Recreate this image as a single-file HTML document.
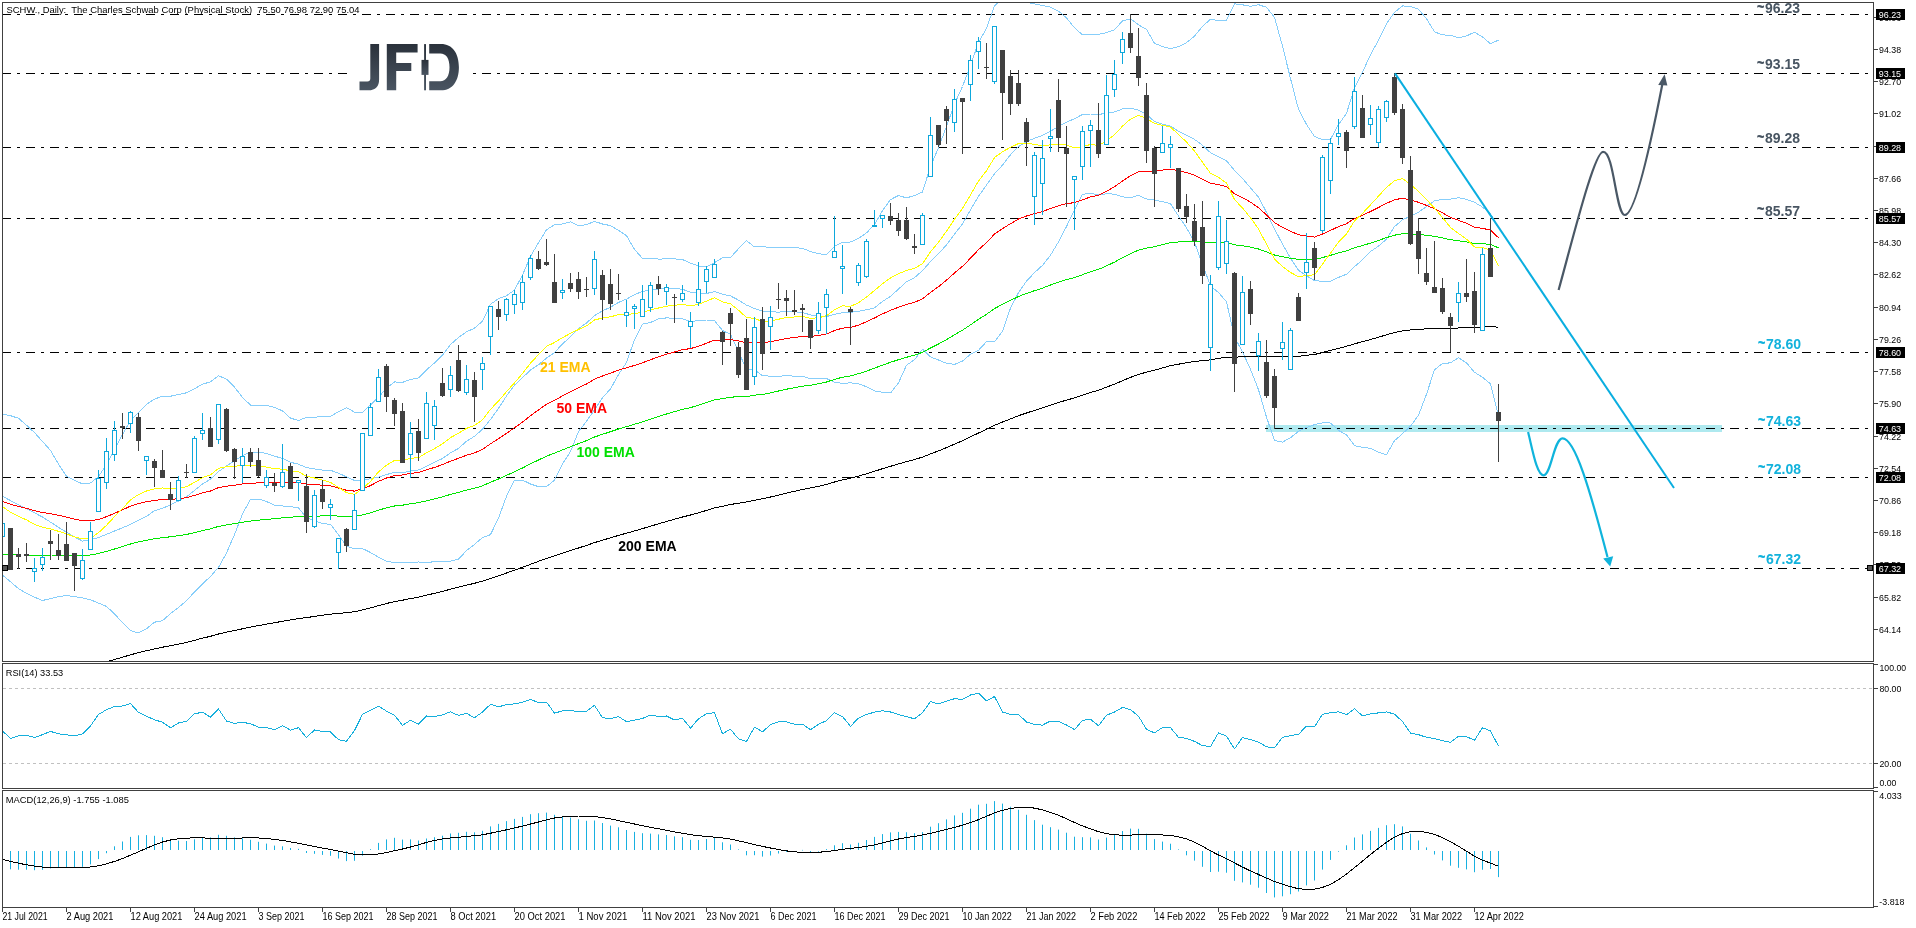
<!DOCTYPE html>
<html><head><meta charset="utf-8"><title>SCHW Daily</title>
<style>html,body{margin:0;padding:0;background:#fff;width:1916px;height:928px;overflow:hidden}
text{font-family:"Liberation Sans",sans-serif}</style></head>
<body>
<svg width="1916" height="928" viewBox="0 0 1916 928" style="display:block;will-change:transform">
<rect width="1916" height="928" fill="#fff"/>
<defs><clipPath id="cm"><rect x="3" y="3" width="1870" height="658"/></clipPath><clipPath id="cr"><rect x="3" y="664" width="1870" height="124"/></clipPath><clipPath id="cd"><rect x="3" y="791" width="1870" height="116"/></clipPath><linearGradient id="jfd" x1="0" y1="0" x2="0" y2="1"><stop offset="0" stop-color="#2a313b"/><stop offset="1" stop-color="#4a5562"/></linearGradient></defs>
<g clip-path="url(#cm)">
<rect x="1266" y="425" width="456" height="7" fill="#aee9ef"/>
<line x1="2" y1="14.5" x2="1873" y2="14.5" stroke="#000" stroke-width="1" stroke-dasharray="9 6 3 6"/>
<line x1="2" y1="73.5" x2="1873" y2="73.5" stroke="#000" stroke-width="1" stroke-dasharray="9 6 3 6"/>
<line x1="2" y1="147.5" x2="1873" y2="147.5" stroke="#000" stroke-width="1" stroke-dasharray="9 6 3 6"/>
<line x1="2" y1="218.5" x2="1873" y2="218.5" stroke="#000" stroke-width="1" stroke-dasharray="9 6 3 6"/>
<line x1="2" y1="352.5" x2="1873" y2="352.5" stroke="#000" stroke-width="1" stroke-dasharray="9 6 3 6"/>
<line x1="2" y1="428.5" x2="1873" y2="428.5" stroke="#000" stroke-width="1" stroke-dasharray="9 6 3 6"/>
<line x1="2" y1="477.5" x2="1873" y2="477.5" stroke="#000" stroke-width="1" stroke-dasharray="9 6 3 6"/>
<line x1="2" y1="568.5" x2="1873" y2="568.5" stroke="#000" stroke-width="1" stroke-dasharray="9 6 3 6"/>
<polyline points="2.5,414.0 10.5,415.7 18.5,418.3 26.5,425.2 34.5,432.6 42.5,441.5 50.5,450.4 58.5,464.1 66.5,476.3 74.5,480.3 82.5,483.9 90.5,483.0 98.5,476.6 106.5,464.6 114.5,449.5 122.5,434.4 130.5,420.4 138.5,412.4 146.5,404.4 154.5,399.1 162.5,396.1 170.5,396.2 178.5,394.6 186.5,392.8 194.5,388.8 202.5,384.1 210.5,381.9 218.5,375.8 226.5,379.1 234.5,387.1 242.5,397.4 250.5,405.1 258.5,405.2 266.5,405.3 274.5,407.3 282.5,410.9 290.5,418.1 298.5,420.5 306.5,417.3 314.5,417.2 322.5,416.6 330.5,416.3 338.5,411.6 346.5,407.6 354.5,412.1 362.5,412.6 370.5,404.8 378.5,397.4 386.5,388.0 394.5,381.9 402.5,382.4 410.5,379.4 418.5,378.0 426.5,369.9 434.5,362.9 442.5,355.2 450.5,344.5 458.5,337.5 466.5,331.8 474.5,328.2 482.5,321.1 490.5,304.3 498.5,298.6 506.5,295.7 514.5,290.0 522.5,275.0 530.5,256.3 538.5,242.8 546.5,229.8 554.5,224.8 562.5,224.0 570.5,221.9 578.5,225.6 586.5,224.7 594.5,221.4 602.5,224.0 610.5,225.6 618.5,230.3 626.5,235.7 634.5,249.4 642.5,258.5 650.5,258.1 658.5,259.1 666.5,258.9 674.5,258.9 682.5,259.6 690.5,263.1 698.5,266.0 706.5,267.0 714.5,262.6 722.5,257.9 730.5,257.5 738.5,248.7 746.5,240.7 754.5,247.0 762.5,246.7 770.5,247.4 778.5,248.0 786.5,247.2 794.5,247.6 802.5,248.4 810.5,251.5 818.5,253.7 826.5,254.6 834.5,246.2 842.5,242.3 850.5,242.0 858.5,238.4 866.5,232.9 874.5,224.6 882.5,210.7 890.5,199.6 898.5,195.5 906.5,197.9 914.5,195.5 922.5,192.1 930.5,166.3 938.5,147.7 946.5,126.4 954.5,104.0 962.5,86.5 970.5,65.5 978.5,42.4 986.5,28.3 994.5,5.8 1002.5,-0.8 1010.5,1.4 1018.5,0.7 1026.5,2.3 1034.5,3.9 1042.5,5.4 1050.5,7.1 1058.5,11.1 1066.5,18.0 1074.5,27.8 1082.5,34.8 1090.5,34.7 1098.5,34.3 1106.5,32.7 1114.5,29.8 1122.5,20.8 1130.5,18.8 1138.5,24.8 1146.5,29.5 1154.5,43.4 1162.5,46.5 1170.5,48.6 1178.5,46.6 1186.5,42.6 1194.5,36.2 1202.5,26.3 1210.5,19.3 1218.5,20.6 1226.5,20.1 1234.5,3.8 1242.5,4.8 1250.5,6.4 1258.5,4.7 1266.5,7.3 1274.5,17.4 1282.5,46.1 1290.5,78.6 1298.5,109.3 1306.5,124.4 1314.5,136.4 1322.5,139.7 1330.5,139.4 1338.5,124.5 1346.5,113.5 1354.5,87.6 1362.5,72.3 1370.5,54.7 1378.5,40.2 1386.5,23.6 1394.5,12.4 1402.5,5.9 1410.5,6.5 1418.5,9.2 1426.5,18.7 1434.5,31.8 1442.5,34.9 1450.5,35.3 1458.5,37.7 1466.5,35.9 1474.5,32.2 1482.5,37.0 1490.5,43.7 1498.5,40.1" fill="none" stroke="#87cefa" stroke-width="1" stroke-linejoin="round" shape-rendering="crispEdges" />
<polyline points="2.5,496.3 10.5,500.6 18.5,504.8 26.5,508.9 34.5,512.9 42.5,517.0 50.5,522.1 58.5,527.3 66.5,532.3 74.5,536.9 82.5,541.1 90.5,539.7 98.5,537.5 106.5,534.3 114.5,531.0 122.5,527.8 130.5,524.4 138.5,520.4 146.5,516.4 154.5,510.7 162.5,508.4 170.5,504.8 178.5,501.0 186.5,496.8 194.5,490.4 202.5,484.0 210.5,479.1 218.5,471.6 226.5,466.1 234.5,460.8 242.5,455.7 250.5,452.2 258.5,452.1 266.5,453.4 274.5,456.2 282.5,458.4 290.5,462.3 298.5,464.2 306.5,467.6 314.5,468.9 322.5,470.1 330.5,470.3 338.5,473.2 346.5,476.9 354.5,480.5 362.5,480.6 370.5,478.6 378.5,477.3 386.5,474.6 394.5,472.3 402.5,472.6 410.5,471.1 418.5,470.0 426.5,466.3 434.5,462.3 442.5,458.5 450.5,452.8 458.5,448.4 466.5,441.2 474.5,436.3 482.5,429.3 490.5,419.5 498.5,408.4 506.5,396.0 514.5,385.2 522.5,377.6 530.5,370.1 538.5,364.7 546.5,358.1 554.5,352.6 562.5,343.9 570.5,336.7 578.5,328.6 586.5,323.0 594.5,315.6 602.5,310.8 610.5,307.3 618.5,302.4 626.5,299.1 634.5,294.6 642.5,291.4 650.5,290.3 658.5,288.9 666.5,288.4 674.5,288.6 682.5,289.2 690.5,292.3 698.5,293.3 706.5,293.5 714.5,291.6 722.5,294.2 730.5,295.9 738.5,300.1 746.5,305.1 754.5,308.5 762.5,311.2 770.5,311.8 778.5,312.1 786.5,311.5 794.5,311.8 802.5,312.4 810.5,315.0 818.5,316.2 826.5,316.6 834.5,314.2 842.5,312.8 850.5,312.4 858.5,311.2 866.5,309.8 874.5,307.8 882.5,301.5 890.5,296.3 898.5,289.1 906.5,281.6 914.5,277.6 922.5,270.7 930.5,261.6 938.5,253.8 946.5,244.8 954.5,234.2 962.5,223.8 970.5,209.9 978.5,196.3 986.5,185.0 994.5,173.8 1002.5,165.1 1010.5,154.7 1018.5,146.7 1026.5,141.7 1034.5,138.2 1042.5,135.4 1050.5,131.2 1058.5,126.5 1066.5,122.3 1074.5,118.7 1082.5,114.5 1090.5,114.0 1098.5,114.5 1106.5,113.2 1114.5,112.0 1122.5,108.9 1130.5,108.3 1138.5,110.1 1146.5,114.2 1154.5,121.6 1162.5,124.1 1170.5,126.1 1178.5,131.4 1186.5,135.1 1194.5,139.4 1202.5,145.3 1210.5,152.7 1218.5,156.6 1226.5,160.9 1234.5,170.3 1242.5,178.4 1250.5,187.9 1258.5,197.2 1266.5,212.3 1274.5,228.9 1282.5,244.1 1290.5,258.1 1298.5,270.3 1306.5,275.9 1314.5,280.6 1322.5,281.3 1330.5,281.2 1338.5,277.4 1346.5,274.2 1354.5,266.7 1362.5,259.8 1370.5,251.5 1378.5,246.2 1386.5,239.1 1394.5,226.6 1402.5,219.8 1410.5,216.3 1418.5,212.2 1426.5,206.5 1434.5,200.8 1442.5,199.3 1450.5,199.1 1458.5,197.7 1466.5,199.4 1474.5,202.3 1482.5,207.1 1490.5,213.8 1498.5,228.2" fill="none" stroke="#87cefa" stroke-width="1" stroke-linejoin="round" shape-rendering="crispEdges" />
<polyline points="2.5,575.0 10.5,581.8 18.5,588.6 26.5,593.3 34.5,597.2 42.5,600.5 50.5,598.6 58.5,596.7 66.5,595.5 74.5,596.6 82.5,597.8 90.5,599.8 98.5,603.1 106.5,606.4 114.5,613.8 122.5,622.7 130.5,630.7 138.5,633.0 146.5,628.7 154.5,622.2 162.5,620.7 170.5,613.5 178.5,607.4 186.5,600.8 194.5,591.9 202.5,583.9 210.5,576.4 218.5,567.4 226.5,553.0 234.5,534.6 242.5,513.9 250.5,499.3 258.5,499.0 266.5,501.6 274.5,505.2 282.5,506.0 290.5,506.5 298.5,508.0 306.5,517.8 314.5,520.5 322.5,523.6 330.5,524.3 338.5,534.8 346.5,546.1 354.5,548.8 362.5,548.6 370.5,552.5 378.5,557.2 386.5,561.2 394.5,562.6 402.5,562.8 410.5,562.9 418.5,562.0 426.5,562.7 434.5,561.6 442.5,561.8 450.5,561.2 458.5,559.2 466.5,550.6 474.5,544.4 482.5,537.6 490.5,534.6 498.5,518.1 506.5,496.3 514.5,480.3 522.5,480.1 530.5,484.0 538.5,486.7 546.5,486.5 554.5,480.3 562.5,463.9 570.5,451.6 578.5,431.6 586.5,421.2 594.5,409.8 602.5,397.7 610.5,388.9 618.5,374.6 626.5,362.4 634.5,339.7 642.5,324.2 650.5,322.5 658.5,318.8 666.5,317.9 674.5,318.3 682.5,318.8 690.5,321.5 698.5,320.6 706.5,320.0 714.5,320.6 722.5,330.5 730.5,334.4 738.5,351.5 746.5,369.5 754.5,370.0 762.5,375.6 770.5,376.2 778.5,376.2 786.5,375.8 794.5,376.1 802.5,376.4 810.5,378.6 818.5,378.7 826.5,378.5 834.5,382.1 842.5,383.4 850.5,382.8 858.5,383.9 866.5,386.7 874.5,391.0 882.5,392.3 890.5,393.0 898.5,382.8 906.5,365.2 914.5,359.7 922.5,349.2 930.5,356.9 938.5,360.0 946.5,363.3 954.5,364.4 962.5,361.1 970.5,354.3 978.5,350.3 986.5,341.7 994.5,341.8 1002.5,331.1 1010.5,308.1 1018.5,292.7 1026.5,281.1 1034.5,272.6 1042.5,265.4 1050.5,255.2 1058.5,241.9 1066.5,226.5 1074.5,209.6 1082.5,194.3 1090.5,193.4 1098.5,194.7 1106.5,193.8 1114.5,194.1 1122.5,196.9 1130.5,197.7 1138.5,195.4 1146.5,199.0 1154.5,199.9 1162.5,201.7 1170.5,203.7 1178.5,216.1 1186.5,227.7 1194.5,242.5 1202.5,264.2 1210.5,286.0 1218.5,292.5 1226.5,301.8 1234.5,336.9 1242.5,352.0 1250.5,369.3 1258.5,389.7 1266.5,417.2 1274.5,440.4 1282.5,442.1 1290.5,437.7 1298.5,431.3 1306.5,427.4 1314.5,424.7 1322.5,422.8 1330.5,423.0 1338.5,430.4 1346.5,434.8 1354.5,445.7 1362.5,447.3 1370.5,448.4 1378.5,452.1 1386.5,454.7 1394.5,440.7 1402.5,433.7 1410.5,426.2 1418.5,415.2 1426.5,394.3 1434.5,369.7 1442.5,363.6 1450.5,362.8 1458.5,357.7 1466.5,362.9 1474.5,372.3 1482.5,377.2 1490.5,383.8 1498.5,416.2" fill="none" stroke="#87cefa" stroke-width="1" stroke-linejoin="round" shape-rendering="crispEdges" />
<polyline points="2.5,554.6 10.5,554.9 18.5,555.0 26.5,555.0 34.5,555.2 42.5,555.3 50.5,555.0 58.5,555.1 66.5,555.2 74.5,555.4 82.5,555.5 90.5,555.0 98.5,553.5 106.5,551.4 114.5,549.0 122.5,546.6 130.5,544.0 138.5,541.9 146.5,540.2 154.5,538.8 162.5,537.6 170.5,536.8 178.5,535.7 186.5,534.5 194.5,532.6 202.5,530.5 210.5,528.9 218.5,526.4 226.5,524.9 234.5,523.7 242.5,522.3 250.5,521.1 258.5,520.2 266.5,519.4 274.5,518.7 282.5,517.8 290.5,517.2 298.5,516.5 306.5,516.6 314.5,516.2 322.5,515.9 330.5,515.6 338.5,516.1 346.5,516.7 354.5,516.6 362.5,514.9 370.5,512.8 378.5,510.1 386.5,507.9 394.5,506.0 402.5,505.2 410.5,503.7 418.5,502.7 426.5,500.8 434.5,498.9 442.5,496.8 450.5,494.4 458.5,492.4 466.5,490.1 474.5,488.3 482.5,485.8 490.5,482.2 498.5,479.0 506.5,475.4 514.5,471.8 522.5,468.0 530.5,463.9 538.5,460.0 546.5,456.2 554.5,453.1 562.5,449.9 570.5,446.7 578.5,443.6 586.5,440.6 594.5,437.0 602.5,434.3 610.5,431.7 618.5,429.0 626.5,426.7 634.5,424.3 642.5,421.8 650.5,419.1 658.5,416.5 666.5,414.0 674.5,411.7 682.5,409.3 690.5,407.6 698.5,405.2 706.5,402.5 714.5,399.8 722.5,398.7 730.5,397.2 738.5,396.7 746.5,396.6 754.5,395.2 762.5,394.4 770.5,392.9 778.5,391.0 786.5,389.2 794.5,387.7 802.5,386.2 810.5,385.2 818.5,383.8 826.5,382.0 834.5,379.4 842.5,377.2 850.5,375.9 858.5,373.7 866.5,371.1 874.5,368.2 882.5,365.1 890.5,362.3 898.5,359.7 906.5,357.3 914.5,355.1 922.5,352.3 930.5,348.0 938.5,344.0 946.5,339.6 954.5,334.8 962.5,330.2 970.5,324.9 978.5,319.3 986.5,314.3 994.5,308.6 1002.5,304.3 1010.5,300.4 1018.5,296.5 1026.5,293.4 1034.5,290.7 1042.5,288.1 1050.5,285.0 1058.5,282.1 1066.5,279.6 1074.5,277.6 1082.5,274.7 1090.5,271.7 1098.5,269.4 1106.5,265.9 1114.5,262.1 1122.5,257.7 1130.5,253.6 1138.5,250.1 1146.5,248.1 1154.5,246.7 1162.5,244.6 1170.5,242.6 1178.5,242.0 1186.5,241.5 1194.5,241.4 1202.5,242.1 1210.5,243.0 1218.5,242.4 1226.5,242.4 1234.5,244.8 1242.5,245.8 1250.5,247.1 1258.5,249.0 1266.5,251.9 1274.5,255.0 1282.5,256.7 1290.5,258.2 1298.5,259.4 1306.5,259.5 1314.5,259.6 1322.5,257.6 1330.5,255.3 1338.5,252.9 1346.5,250.9 1354.5,247.7 1362.5,245.6 1370.5,243.1 1378.5,240.4 1386.5,237.6 1394.5,235.2 1402.5,233.7 1410.5,233.9 1418.5,234.4 1426.5,235.3 1434.5,236.4 1442.5,237.9 1450.5,239.7 1458.5,240.8 1466.5,241.9 1474.5,243.5 1482.5,243.7 1490.5,244.4 1498.5,247.9" fill="none" stroke="#00e600" stroke-width="1" stroke-linejoin="round" shape-rendering="crispEdges" />
<polyline points="2.5,501.6 10.5,504.3 18.5,506.4 26.5,508.3 34.5,510.6 42.5,512.5 50.5,513.7 58.5,515.3 66.5,517.1 74.5,519.1 82.5,520.6 90.5,521.0 98.5,519.4 106.5,516.7 114.5,513.3 122.5,509.9 130.5,506.1 138.5,503.6 146.5,501.7 154.5,500.4 162.5,499.5 170.5,499.5 178.5,498.7 186.5,497.7 194.5,495.4 202.5,492.8 210.5,491.0 218.5,487.6 226.5,486.2 234.5,485.2 242.5,484.0 250.5,483.2 258.5,482.9 266.5,482.7 274.5,482.8 282.5,482.4 290.5,482.7 298.5,482.6 306.5,484.1 314.5,484.5 322.5,485.2 330.5,485.9 338.5,488.0 346.5,490.3 354.5,491.1 362.5,488.8 370.5,485.6 378.5,481.3 386.5,478.0 394.5,475.5 402.5,475.0 410.5,473.4 418.5,472.6 426.5,469.9 434.5,467.4 442.5,464.6 450.5,461.1 458.5,458.3 466.5,455.2 474.5,452.9 482.5,449.4 490.5,443.8 498.5,438.8 506.5,433.3 514.5,427.8 522.5,422.1 530.5,415.7 538.5,409.9 546.5,404.2 554.5,400.3 562.5,395.9 570.5,391.7 578.5,387.8 586.5,384.0 594.5,379.1 602.5,376.0 610.5,373.2 618.5,370.1 626.5,367.8 634.5,365.4 642.5,362.8 650.5,359.7 658.5,356.9 666.5,354.2 674.5,352.0 682.5,349.7 690.5,348.6 698.5,346.3 706.5,343.2 714.5,340.1 722.5,340.2 730.5,339.6 738.5,340.9 746.5,342.9 754.5,342.3 762.5,342.7 770.5,341.7 778.5,340.1 786.5,338.5 794.5,337.5 802.5,336.4 810.5,336.5 818.5,335.5 826.5,333.9 834.5,330.6 842.5,328.1 850.5,327.5 858.5,325.1 866.5,321.8 874.5,318.0 882.5,313.9 890.5,310.3 898.5,307.2 906.5,304.5 914.5,302.3 922.5,298.8 930.5,292.4 938.5,286.7 946.5,280.1 954.5,273.0 962.5,266.3 970.5,258.2 978.5,249.7 986.5,242.6 994.5,234.1 1002.5,228.6 1010.5,223.7 1018.5,219.0 1026.5,216.0 1034.5,213.6 1042.5,211.5 1050.5,208.5 1058.5,205.7 1066.5,203.7 1074.5,202.6 1082.5,199.8 1090.5,196.9 1098.5,195.3 1106.5,191.3 1114.5,186.8 1122.5,181.0 1130.5,175.8 1138.5,171.9 1146.5,171.1 1154.5,171.2 1162.5,170.1 1170.5,169.1 1178.5,170.6 1186.5,172.5 1194.5,175.1 1202.5,179.1 1210.5,183.2 1218.5,184.5 1226.5,186.7 1234.5,193.7 1242.5,197.6 1250.5,202.2 1258.5,207.6 1266.5,215.0 1274.5,222.6 1282.5,227.3 1290.5,231.3 1298.5,234.8 1306.5,235.9 1314.5,237.1 1322.5,234.0 1330.5,230.4 1338.5,226.6 1346.5,223.7 1354.5,218.5 1362.5,215.3 1370.5,211.5 1378.5,207.5 1386.5,203.3 1394.5,199.8 1402.5,198.2 1410.5,200.0 1418.5,202.3 1426.5,205.4 1434.5,208.8 1442.5,212.9 1450.5,217.3 1458.5,220.3 1466.5,223.3 1474.5,227.3 1482.5,228.3 1490.5,230.2 1498.5,237.7" fill="none" stroke="#ff0000" stroke-width="1" stroke-linejoin="round" shape-rendering="crispEdges" />
<polyline points="2.5,506.5 10.5,512.3 18.5,516.4 26.5,519.9 34.5,524.3 42.5,527.3 50.5,528.8 58.5,531.3 66.5,533.9 74.5,536.9 82.5,538.9 90.5,538.2 98.5,532.7 106.5,525.3 114.5,516.7 122.5,508.6 130.5,499.8 138.5,494.5 146.5,491.0 154.5,488.9 162.5,487.9 170.5,488.9 178.5,488.2 186.5,486.7 194.5,482.3 202.5,477.6 210.5,474.8 218.5,468.4 226.5,466.8 234.5,466.3 242.5,465.3 250.5,465.1 258.5,466.1 266.5,467.1 274.5,468.8 282.5,469.1 290.5,470.9 298.5,471.7 306.5,476.3 314.5,478.0 322.5,480.2 330.5,482.3 338.5,487.4 346.5,492.7 354.5,494.3 362.5,488.8 370.5,481.4 378.5,471.9 386.5,465.1 394.5,460.5 402.5,460.7 410.5,458.2 418.5,457.8 426.5,452.8 434.5,448.6 442.5,443.8 450.5,437.6 458.5,433.3 466.5,428.4 474.5,425.5 482.5,419.8 490.5,409.4 498.5,401.0 506.5,391.7 514.5,382.8 522.5,373.6 530.5,363.1 538.5,354.6 546.5,346.4 554.5,342.5 562.5,337.7 570.5,333.3 578.5,329.5 586.5,325.9 594.5,319.9 602.5,318.1 610.5,316.8 618.5,314.7 626.5,314.5 634.5,313.7 642.5,312.3 650.5,309.9 658.5,308.0 666.5,306.1 674.5,305.4 682.5,304.3 690.5,305.8 698.5,304.3 706.5,301.1 714.5,297.8 722.5,301.8 730.5,303.8 738.5,310.2 746.5,317.5 754.5,318.4 762.5,321.6 770.5,321.1 778.5,319.2 786.5,317.6 794.5,317.0 802.5,316.4 810.5,318.3 818.5,317.8 826.5,315.7 834.5,309.8 842.5,305.8 850.5,306.4 858.5,302.7 866.5,297.1 874.5,290.5 882.5,283.7 890.5,277.9 898.5,273.6 906.5,270.5 914.5,268.4 922.5,263.6 930.5,251.9 938.5,242.2 946.5,231.2 954.5,219.2 962.5,208.5 970.5,195.0 978.5,181.0 986.5,170.7 994.5,157.6 1002.5,151.7 1010.5,147.4 1018.5,143.5 1026.5,143.3 1034.5,144.4 1042.5,145.7 1050.5,144.8 1058.5,144.2 1066.5,145.1 1074.5,148.0 1082.5,146.5 1090.5,144.5 1098.5,145.4 1106.5,140.9 1114.5,134.8 1122.5,126.1 1130.5,119.1 1138.5,115.3 1146.5,118.5 1154.5,123.5 1162.5,125.3 1170.5,127.1 1178.5,134.5 1186.5,142.0 1194.5,151.0 1202.5,162.3 1210.5,173.4 1218.5,177.3 1226.5,183.1 1234.5,199.6 1242.5,208.0 1250.5,217.7 1258.5,229.0 1266.5,244.2 1274.5,259.0 1282.5,266.6 1290.5,272.4 1298.5,276.8 1306.5,275.5 1314.5,274.8 1322.5,264.1 1330.5,253.1 1338.5,242.2 1346.5,233.9 1354.5,220.9 1362.5,213.4 1370.5,204.8 1378.5,196.1 1386.5,187.4 1394.5,180.7 1402.5,178.6 1410.5,184.6 1418.5,191.3 1426.5,199.6 1434.5,208.1 1442.5,217.6 1450.5,227.4 1458.5,233.4 1466.5,239.2 1474.5,247.0 1482.5,247.6 1490.5,250.2 1498.5,265.7" fill="none" stroke="#ffff00" stroke-width="1" stroke-linejoin="round" shape-rendering="crispEdges" />
<polyline points="2.5,678.5 10.5,677.4 18.5,676.2 26.5,675.0 34.5,674.0 42.5,672.8 50.5,671.5 58.5,670.4 66.5,669.3 74.5,668.2 82.5,667.2 90.5,665.8 98.5,663.9 106.5,661.8 114.5,659.5 122.5,657.2 130.5,654.8 138.5,652.7 146.5,650.7 154.5,648.9 162.5,647.2 170.5,645.7 178.5,644.1 186.5,642.4 194.5,640.3 202.5,638.2 210.5,636.3 218.5,634.0 226.5,632.2 234.5,630.5 242.5,628.8 250.5,627.1 258.5,625.6 266.5,624.1 274.5,622.8 282.5,621.2 290.5,619.9 298.5,618.5 306.5,617.6 314.5,616.4 322.5,615.2 330.5,614.1 338.5,613.4 346.5,612.7 354.5,611.7 362.5,609.9 370.5,607.9 378.5,605.6 386.5,603.5 394.5,601.6 402.5,600.2 410.5,598.6 418.5,597.1 426.5,595.2 434.5,593.3 442.5,591.4 450.5,589.2 458.5,587.2 466.5,585.2 474.5,583.3 482.5,581.1 490.5,578.4 498.5,575.8 506.5,573.0 514.5,570.2 522.5,567.3 530.5,564.3 538.5,561.3 546.5,558.4 554.5,555.8 562.5,553.2 570.5,550.6 578.5,548.0 586.5,545.4 594.5,542.6 602.5,540.2 610.5,537.8 618.5,535.4 626.5,533.2 634.5,530.9 642.5,528.6 650.5,526.2 658.5,523.8 666.5,521.5 674.5,519.2 682.5,517.0 690.5,515.0 698.5,512.8 706.5,510.4 714.5,507.9 722.5,506.3 730.5,504.5 738.5,503.2 746.5,502.0 754.5,500.3 762.5,498.8 770.5,497.0 778.5,495.1 786.5,493.1 794.5,491.3 802.5,489.5 810.5,488.0 818.5,486.3 826.5,484.4 834.5,482.0 842.5,479.9 850.5,478.2 858.5,476.1 866.5,473.8 874.5,471.3 882.5,468.7 890.5,466.3 898.5,463.9 906.5,461.7 914.5,459.6 922.5,457.1 930.5,453.9 938.5,450.9 946.5,447.6 954.5,444.1 962.5,440.7 970.5,436.9 978.5,433.0 986.5,429.3 994.5,425.3 1002.5,422.0 1010.5,418.9 1018.5,415.7 1026.5,413.0 1034.5,410.4 1042.5,407.9 1050.5,405.2 1058.5,402.6 1066.5,400.1 1074.5,397.9 1082.5,395.2 1090.5,392.5 1098.5,390.2 1106.5,387.2 1114.5,384.1 1122.5,380.7 1130.5,377.4 1138.5,374.4 1146.5,372.2 1154.5,370.2 1162.5,367.9 1170.5,365.7 1178.5,364.2 1186.5,362.7 1194.5,361.5 1202.5,360.6 1210.5,359.9 1218.5,358.4 1226.5,357.3 1234.5,357.3 1242.5,356.7 1250.5,356.3 1258.5,356.1 1266.5,356.5 1274.5,357.0 1282.5,356.9 1290.5,356.6 1298.5,356.3 1306.5,355.3 1314.5,354.5 1322.5,352.5 1330.5,350.4 1338.5,348.3 1346.5,346.3 1354.5,343.8 1362.5,341.7 1370.5,339.5 1378.5,337.2 1386.5,334.8 1394.5,332.6 1402.5,330.9 1410.5,330.0 1418.5,329.3 1426.5,328.9 1434.5,328.5 1442.5,328.3 1450.5,328.3 1458.5,328.0 1466.5,327.7 1474.5,327.6 1482.5,326.9 1490.5,326.4 1498.5,327.3" fill="none" stroke="#000" stroke-width="1" stroke-linejoin="round" shape-rendering="crispEdges" />
<rect x="2" y="521" width="1" height="17" fill="#0ea8dc"/>
<rect x="0.5" y="523.5" width="4" height="13" fill="#fff" stroke="#0ea8dc" stroke-width="1"/>
<rect x="10" y="528" width="1" height="42" fill="#404040"/>
<rect x="8" y="528" width="5" height="42" fill="#404040"/>
<rect x="18" y="548" width="1" height="21" fill="#404040"/>
<rect x="16" y="554" width="5" height="3" fill="#404040"/>
<rect x="26" y="543" width="1" height="19" fill="#404040"/>
<rect x="24" y="554" width="5" height="2" fill="#404040"/>
<rect x="34" y="558" width="1" height="24" fill="#0ea8dc"/>
<rect x="32.5" y="568.5" width="4" height="3" fill="#fff" stroke="#0ea8dc" stroke-width="1"/>
<rect x="42" y="548" width="1" height="23" fill="#0ea8dc"/>
<rect x="40.5" y="557.5" width="4" height="7" fill="#fff" stroke="#0ea8dc" stroke-width="1"/>
<rect x="50" y="530" width="1" height="30" fill="#404040"/>
<rect x="48" y="541" width="5" height="3" fill="#404040"/>
<rect x="58" y="534" width="1" height="26" fill="#404040"/>
<rect x="56" y="550" width="5" height="6" fill="#404040"/>
<rect x="66" y="522" width="1" height="39" fill="#404040"/>
<rect x="64" y="544" width="5" height="17" fill="#404040"/>
<rect x="74" y="553" width="1" height="38" fill="#404040"/>
<rect x="72" y="553" width="5" height="13" fill="#404040"/>
<rect x="82" y="549" width="1" height="31" fill="#0ea8dc"/>
<rect x="80.5" y="560.5" width="4" height="18" fill="#fff" stroke="#0ea8dc" stroke-width="1"/>
<rect x="90" y="522" width="1" height="28" fill="#0ea8dc"/>
<rect x="88.5" y="531.5" width="4" height="18" fill="#fff" stroke="#0ea8dc" stroke-width="1"/>
<rect x="98" y="470" width="1" height="41" fill="#0ea8dc"/>
<rect x="96.5" y="478.5" width="4" height="33" fill="#fff" stroke="#0ea8dc" stroke-width="1"/>
<rect x="106" y="438" width="1" height="51" fill="#0ea8dc"/>
<rect x="104.5" y="451.5" width="4" height="31" fill="#fff" stroke="#0ea8dc" stroke-width="1"/>
<rect x="114" y="421" width="1" height="40" fill="#0ea8dc"/>
<rect x="112.5" y="430.5" width="4" height="24" fill="#fff" stroke="#0ea8dc" stroke-width="1"/>
<rect x="122" y="413" width="1" height="26" fill="#404040"/>
<rect x="120" y="426" width="5" height="2" fill="#404040"/>
<rect x="130" y="411" width="1" height="22" fill="#0ea8dc"/>
<rect x="128.5" y="412.5" width="4" height="11" fill="#fff" stroke="#0ea8dc" stroke-width="1"/>
<rect x="138" y="413" width="1" height="38" fill="#404040"/>
<rect x="136" y="417" width="5" height="24" fill="#404040"/>
<rect x="146" y="456" width="1" height="19" fill="#0ea8dc"/>
<rect x="144.5" y="456.5" width="4" height="4" fill="#fff" stroke="#0ea8dc" stroke-width="1"/>
<rect x="154" y="459" width="1" height="28" fill="#404040"/>
<rect x="152" y="461" width="5" height="7" fill="#404040"/>
<rect x="162" y="450" width="1" height="28" fill="#404040"/>
<rect x="160" y="470" width="5" height="8" fill="#404040"/>
<rect x="170" y="482" width="1" height="28" fill="#404040"/>
<rect x="168" y="494" width="5" height="6" fill="#404040"/>
<rect x="178" y="476" width="1" height="25" fill="#0ea8dc"/>
<rect x="176.5" y="480.5" width="4" height="20" fill="#fff" stroke="#0ea8dc" stroke-width="1"/>
<rect x="186" y="464" width="1" height="14" fill="#404040"/>
<rect x="184" y="472" width="5" height="1" fill="#404040"/>
<rect x="194" y="436" width="1" height="36" fill="#0ea8dc"/>
<rect x="192.5" y="438.5" width="4" height="34" fill="#fff" stroke="#0ea8dc" stroke-width="1"/>
<rect x="202" y="413" width="1" height="27" fill="#0ea8dc"/>
<rect x="200.5" y="430.5" width="4" height="3" fill="#fff" stroke="#0ea8dc" stroke-width="1"/>
<rect x="210" y="417" width="1" height="30" fill="#404040"/>
<rect x="208" y="428" width="5" height="19" fill="#404040"/>
<rect x="218" y="404" width="1" height="40" fill="#0ea8dc"/>
<rect x="216.5" y="404.5" width="4" height="35" fill="#fff" stroke="#0ea8dc" stroke-width="1"/>
<rect x="226" y="408" width="1" height="44" fill="#404040"/>
<rect x="224" y="409" width="5" height="42" fill="#404040"/>
<rect x="234" y="448" width="1" height="31" fill="#404040"/>
<rect x="232" y="449" width="5" height="13" fill="#404040"/>
<rect x="242" y="448" width="1" height="35" fill="#0ea8dc"/>
<rect x="240.5" y="456.5" width="4" height="9" fill="#fff" stroke="#0ea8dc" stroke-width="1"/>
<rect x="250" y="448" width="1" height="19" fill="#404040"/>
<rect x="248" y="452" width="5" height="10" fill="#404040"/>
<rect x="258" y="448" width="1" height="29" fill="#404040"/>
<rect x="256" y="460" width="5" height="16" fill="#404040"/>
<rect x="266" y="470" width="1" height="18" fill="#0ea8dc"/>
<rect x="264.5" y="477.5" width="4" height="8" fill="#fff" stroke="#0ea8dc" stroke-width="1"/>
<rect x="274" y="473" width="1" height="19" fill="#404040"/>
<rect x="272" y="483" width="5" height="3" fill="#404040"/>
<rect x="282" y="444" width="1" height="44" fill="#0ea8dc"/>
<rect x="280.5" y="472.5" width="4" height="14" fill="#fff" stroke="#0ea8dc" stroke-width="1"/>
<rect x="290" y="463" width="1" height="26" fill="#404040"/>
<rect x="288" y="466" width="5" height="23" fill="#404040"/>
<rect x="298" y="480" width="1" height="21" fill="#0ea8dc"/>
<rect x="296.5" y="480.5" width="4" height="2" fill="#fff" stroke="#0ea8dc" stroke-width="1"/>
<rect x="306" y="474" width="1" height="59" fill="#404040"/>
<rect x="304" y="486" width="5" height="36" fill="#404040"/>
<rect x="314" y="490" width="1" height="38" fill="#0ea8dc"/>
<rect x="312.5" y="495.5" width="4" height="31" fill="#fff" stroke="#0ea8dc" stroke-width="1"/>
<rect x="322" y="480" width="1" height="29" fill="#404040"/>
<rect x="320" y="489" width="5" height="13" fill="#404040"/>
<rect x="330" y="499" width="1" height="21" fill="#0ea8dc"/>
<rect x="328.5" y="504.5" width="4" height="3" fill="#fff" stroke="#0ea8dc" stroke-width="1"/>
<rect x="338" y="538" width="1" height="31" fill="#0ea8dc"/>
<rect x="336.5" y="538.5" width="4" height="14" fill="#fff" stroke="#0ea8dc" stroke-width="1"/>
<rect x="346" y="528" width="1" height="24" fill="#404040"/>
<rect x="344" y="529" width="5" height="17" fill="#404040"/>
<rect x="354" y="494" width="1" height="35" fill="#0ea8dc"/>
<rect x="352.5" y="510.5" width="4" height="19" fill="#fff" stroke="#0ea8dc" stroke-width="1"/>
<rect x="362" y="433" width="1" height="57" fill="#0ea8dc"/>
<rect x="360.5" y="433.5" width="4" height="57" fill="#fff" stroke="#0ea8dc" stroke-width="1"/>
<rect x="370" y="403" width="1" height="33" fill="#0ea8dc"/>
<rect x="368.5" y="407.5" width="4" height="28" fill="#fff" stroke="#0ea8dc" stroke-width="1"/>
<rect x="378" y="369" width="1" height="33" fill="#0ea8dc"/>
<rect x="376.5" y="377.5" width="4" height="24" fill="#fff" stroke="#0ea8dc" stroke-width="1"/>
<rect x="386" y="364" width="1" height="48" fill="#404040"/>
<rect x="384" y="366" width="5" height="31" fill="#404040"/>
<rect x="394" y="398" width="1" height="28" fill="#404040"/>
<rect x="392" y="400" width="5" height="14" fill="#404040"/>
<rect x="402" y="403" width="1" height="60" fill="#404040"/>
<rect x="400" y="411" width="5" height="52" fill="#404040"/>
<rect x="410" y="422" width="1" height="56" fill="#0ea8dc"/>
<rect x="408.5" y="433.5" width="4" height="21" fill="#fff" stroke="#0ea8dc" stroke-width="1"/>
<rect x="418" y="419" width="1" height="42" fill="#404040"/>
<rect x="416" y="431" width="5" height="22" fill="#404040"/>
<rect x="426" y="392" width="1" height="46" fill="#0ea8dc"/>
<rect x="424.5" y="403.5" width="4" height="35" fill="#fff" stroke="#0ea8dc" stroke-width="1"/>
<rect x="434" y="400" width="1" height="40" fill="#0ea8dc"/>
<rect x="432.5" y="406.5" width="4" height="19" fill="#fff" stroke="#0ea8dc" stroke-width="1"/>
<rect x="442" y="368" width="1" height="29" fill="#404040"/>
<rect x="440" y="383" width="5" height="13" fill="#404040"/>
<rect x="450" y="366" width="1" height="31" fill="#0ea8dc"/>
<rect x="448.5" y="375.5" width="4" height="14" fill="#fff" stroke="#0ea8dc" stroke-width="1"/>
<rect x="458" y="345" width="1" height="47" fill="#404040"/>
<rect x="456" y="360" width="5" height="31" fill="#404040"/>
<rect x="466" y="365" width="1" height="30" fill="#0ea8dc"/>
<rect x="464.5" y="379.5" width="4" height="13" fill="#fff" stroke="#0ea8dc" stroke-width="1"/>
<rect x="474" y="372" width="1" height="50" fill="#404040"/>
<rect x="472" y="380" width="5" height="17" fill="#404040"/>
<rect x="482" y="357" width="1" height="33" fill="#0ea8dc"/>
<rect x="480.5" y="363.5" width="4" height="6" fill="#fff" stroke="#0ea8dc" stroke-width="1"/>
<rect x="490" y="306" width="1" height="49" fill="#0ea8dc"/>
<rect x="488.5" y="306.5" width="4" height="30" fill="#fff" stroke="#0ea8dc" stroke-width="1"/>
<rect x="498" y="301" width="1" height="29" fill="#404040"/>
<rect x="496" y="309" width="5" height="8" fill="#404040"/>
<rect x="506" y="298" width="1" height="23" fill="#0ea8dc"/>
<rect x="504.5" y="299.5" width="4" height="15" fill="#fff" stroke="#0ea8dc" stroke-width="1"/>
<rect x="514" y="290" width="1" height="24" fill="#0ea8dc"/>
<rect x="512.5" y="294.5" width="4" height="10" fill="#fff" stroke="#0ea8dc" stroke-width="1"/>
<rect x="522" y="275" width="1" height="35" fill="#0ea8dc"/>
<rect x="520.5" y="282.5" width="4" height="20" fill="#fff" stroke="#0ea8dc" stroke-width="1"/>
<rect x="530" y="255" width="1" height="25" fill="#0ea8dc"/>
<rect x="528.5" y="258.5" width="4" height="19" fill="#fff" stroke="#0ea8dc" stroke-width="1"/>
<rect x="538" y="251" width="1" height="19" fill="#404040"/>
<rect x="536" y="259" width="5" height="10" fill="#404040"/>
<rect x="546" y="239" width="1" height="27" fill="#404040"/>
<rect x="544" y="262" width="5" height="3" fill="#404040"/>
<rect x="554" y="254" width="1" height="49" fill="#404040"/>
<rect x="552" y="282" width="5" height="21" fill="#404040"/>
<rect x="562" y="279" width="1" height="20" fill="#0ea8dc"/>
<rect x="560.5" y="290.5" width="4" height="2" fill="#fff" stroke="#0ea8dc" stroke-width="1"/>
<rect x="570" y="273" width="1" height="19" fill="#404040"/>
<rect x="568" y="283" width="5" height="6" fill="#404040"/>
<rect x="578" y="272" width="1" height="27" fill="#404040"/>
<rect x="576" y="279" width="5" height="13" fill="#404040"/>
<rect x="586" y="277" width="1" height="20" fill="#404040"/>
<rect x="584" y="289" width="5" height="1" fill="#404040"/>
<rect x="594" y="251" width="1" height="44" fill="#0ea8dc"/>
<rect x="592.5" y="259.5" width="4" height="29" fill="#fff" stroke="#0ea8dc" stroke-width="1"/>
<rect x="602" y="270" width="1" height="50" fill="#404040"/>
<rect x="600" y="275" width="5" height="25" fill="#404040"/>
<rect x="610" y="269" width="1" height="41" fill="#404040"/>
<rect x="608" y="284" width="5" height="20" fill="#404040"/>
<rect x="618" y="274" width="1" height="26" fill="#404040"/>
<rect x="616" y="293" width="5" height="1" fill="#404040"/>
<rect x="626" y="300" width="1" height="27" fill="#0ea8dc"/>
<rect x="624.5" y="312.5" width="4" height="3" fill="#fff" stroke="#0ea8dc" stroke-width="1"/>
<rect x="634" y="304" width="1" height="25" fill="#0ea8dc"/>
<rect x="632.5" y="306.5" width="4" height="2" fill="#fff" stroke="#0ea8dc" stroke-width="1"/>
<rect x="642" y="285" width="1" height="31" fill="#0ea8dc"/>
<rect x="640.5" y="299.5" width="4" height="17" fill="#fff" stroke="#0ea8dc" stroke-width="1"/>
<rect x="650" y="282" width="1" height="30" fill="#0ea8dc"/>
<rect x="648.5" y="285.5" width="4" height="22" fill="#fff" stroke="#0ea8dc" stroke-width="1"/>
<rect x="658" y="276" width="1" height="19" fill="#404040"/>
<rect x="656" y="284" width="5" height="5" fill="#404040"/>
<rect x="666" y="284" width="1" height="21" fill="#0ea8dc"/>
<rect x="664.5" y="287.5" width="4" height="4" fill="#fff" stroke="#0ea8dc" stroke-width="1"/>
<rect x="674" y="294" width="1" height="29" fill="#404040"/>
<rect x="672" y="297" width="5" height="1" fill="#404040"/>
<rect x="682" y="285" width="1" height="17" fill="#0ea8dc"/>
<rect x="680.5" y="293.5" width="4" height="6" fill="#fff" stroke="#0ea8dc" stroke-width="1"/>
<rect x="690" y="312" width="1" height="36" fill="#0ea8dc"/>
<rect x="688.5" y="321.5" width="4" height="5" fill="#fff" stroke="#0ea8dc" stroke-width="1"/>
<rect x="698" y="262" width="1" height="44" fill="#0ea8dc"/>
<rect x="696.5" y="289.5" width="4" height="13" fill="#fff" stroke="#0ea8dc" stroke-width="1"/>
<rect x="706" y="266" width="1" height="27" fill="#0ea8dc"/>
<rect x="704.5" y="269.5" width="4" height="12" fill="#fff" stroke="#0ea8dc" stroke-width="1"/>
<rect x="714" y="259" width="1" height="19" fill="#0ea8dc"/>
<rect x="712.5" y="264.5" width="4" height="13" fill="#fff" stroke="#0ea8dc" stroke-width="1"/>
<rect x="722" y="331" width="1" height="34" fill="#404040"/>
<rect x="720" y="332" width="5" height="10" fill="#404040"/>
<rect x="730" y="308" width="1" height="38" fill="#404040"/>
<rect x="728" y="313" width="5" height="11" fill="#404040"/>
<rect x="738" y="342" width="1" height="36" fill="#404040"/>
<rect x="736" y="347" width="5" height="28" fill="#404040"/>
<rect x="746" y="319" width="1" height="71" fill="#404040"/>
<rect x="744" y="338" width="5" height="52" fill="#404040"/>
<rect x="754" y="317" width="1" height="68" fill="#0ea8dc"/>
<rect x="752.5" y="327.5" width="4" height="49" fill="#fff" stroke="#0ea8dc" stroke-width="1"/>
<rect x="762" y="307" width="1" height="63" fill="#404040"/>
<rect x="760" y="319" width="5" height="35" fill="#404040"/>
<rect x="770" y="306" width="1" height="44" fill="#0ea8dc"/>
<rect x="768.5" y="317.5" width="4" height="9" fill="#fff" stroke="#0ea8dc" stroke-width="1"/>
<rect x="778" y="283" width="1" height="26" fill="#404040"/>
<rect x="776" y="299" width="5" height="1" fill="#404040"/>
<rect x="786" y="290" width="1" height="26" fill="#404040"/>
<rect x="784" y="298" width="5" height="3" fill="#404040"/>
<rect x="794" y="290" width="1" height="25" fill="#404040"/>
<rect x="792" y="310" width="5" height="2" fill="#404040"/>
<rect x="802" y="304" width="1" height="28" fill="#404040"/>
<rect x="800" y="308" width="5" height="2" fill="#404040"/>
<rect x="810" y="320" width="1" height="29" fill="#404040"/>
<rect x="808" y="320" width="5" height="18" fill="#404040"/>
<rect x="818" y="302" width="1" height="32" fill="#0ea8dc"/>
<rect x="816.5" y="313.5" width="4" height="17" fill="#fff" stroke="#0ea8dc" stroke-width="1"/>
<rect x="826" y="289" width="1" height="45" fill="#0ea8dc"/>
<rect x="824.5" y="294.5" width="4" height="13" fill="#fff" stroke="#0ea8dc" stroke-width="1"/>
<rect x="834" y="216" width="1" height="42" fill="#0ea8dc"/>
<rect x="832.5" y="251.5" width="4" height="6" fill="#fff" stroke="#0ea8dc" stroke-width="1"/>
<rect x="842" y="245" width="1" height="49" fill="#0ea8dc"/>
<rect x="840.5" y="266.5" width="4" height="2" fill="#fff" stroke="#0ea8dc" stroke-width="1"/>
<rect x="850" y="307" width="1" height="38" fill="#404040"/>
<rect x="848" y="309" width="5" height="3" fill="#404040"/>
<rect x="858" y="263" width="1" height="23" fill="#0ea8dc"/>
<rect x="856.5" y="265.5" width="4" height="17" fill="#fff" stroke="#0ea8dc" stroke-width="1"/>
<rect x="866" y="239" width="1" height="39" fill="#0ea8dc"/>
<rect x="864.5" y="241.5" width="4" height="35" fill="#fff" stroke="#0ea8dc" stroke-width="1"/>
<rect x="874" y="210" width="1" height="17" fill="#0ea8dc"/>
<rect x="872.5" y="225.5" width="4" height="1" fill="#fff" stroke="#0ea8dc" stroke-width="1"/>
<rect x="882" y="215" width="1" height="13" fill="#0ea8dc"/>
<rect x="880.5" y="215.5" width="4" height="3" fill="#fff" stroke="#0ea8dc" stroke-width="1"/>
<rect x="890" y="203" width="1" height="22" fill="#404040"/>
<rect x="888" y="216" width="5" height="5" fill="#404040"/>
<rect x="898" y="213" width="1" height="23" fill="#404040"/>
<rect x="896" y="220" width="5" height="11" fill="#404040"/>
<rect x="906" y="207" width="1" height="33" fill="#404040"/>
<rect x="904" y="220" width="5" height="19" fill="#404040"/>
<rect x="914" y="234" width="1" height="20" fill="#404040"/>
<rect x="912" y="246" width="5" height="2" fill="#404040"/>
<rect x="922" y="213" width="1" height="32" fill="#0ea8dc"/>
<rect x="920.5" y="215.5" width="4" height="29" fill="#fff" stroke="#0ea8dc" stroke-width="1"/>
<rect x="930" y="117" width="1" height="59" fill="#0ea8dc"/>
<rect x="928.5" y="135.5" width="4" height="41" fill="#fff" stroke="#0ea8dc" stroke-width="1"/>
<rect x="938" y="125" width="1" height="22" fill="#404040"/>
<rect x="936" y="125" width="5" height="20" fill="#404040"/>
<rect x="946" y="106" width="1" height="38" fill="#404040"/>
<rect x="944" y="109" width="5" height="12" fill="#404040"/>
<rect x="954" y="89" width="1" height="43" fill="#0ea8dc"/>
<rect x="952.5" y="99.5" width="4" height="23" fill="#fff" stroke="#0ea8dc" stroke-width="1"/>
<rect x="962" y="98" width="1" height="56" fill="#404040"/>
<rect x="960" y="98" width="5" height="4" fill="#404040"/>
<rect x="970" y="55" width="1" height="46" fill="#0ea8dc"/>
<rect x="968.5" y="60.5" width="4" height="24" fill="#fff" stroke="#0ea8dc" stroke-width="1"/>
<rect x="978" y="37" width="1" height="32" fill="#0ea8dc"/>
<rect x="976.5" y="41.5" width="4" height="10" fill="#fff" stroke="#0ea8dc" stroke-width="1"/>
<rect x="986" y="43" width="1" height="36" fill="#404040"/>
<rect x="984" y="67" width="5" height="1" fill="#404040"/>
<rect x="994" y="26" width="1" height="58" fill="#0ea8dc"/>
<rect x="992.5" y="26.5" width="4" height="55" fill="#fff" stroke="#0ea8dc" stroke-width="1"/>
<rect x="1002" y="50" width="1" height="90" fill="#404040"/>
<rect x="1000" y="50" width="5" height="43" fill="#404040"/>
<rect x="1010" y="70" width="1" height="45" fill="#404040"/>
<rect x="1008" y="76" width="5" height="28" fill="#404040"/>
<rect x="1018" y="70" width="1" height="36" fill="#404040"/>
<rect x="1016" y="83" width="5" height="21" fill="#404040"/>
<rect x="1026" y="118" width="1" height="48" fill="#404040"/>
<rect x="1024" y="122" width="5" height="20" fill="#404040"/>
<rect x="1034" y="152" width="1" height="73" fill="#0ea8dc"/>
<rect x="1032.5" y="155.5" width="4" height="41" fill="#fff" stroke="#0ea8dc" stroke-width="1"/>
<rect x="1042" y="140" width="1" height="75" fill="#0ea8dc"/>
<rect x="1040.5" y="158.5" width="4" height="25" fill="#fff" stroke="#0ea8dc" stroke-width="1"/>
<rect x="1050" y="109" width="1" height="43" fill="#0ea8dc"/>
<rect x="1048.5" y="136.5" width="4" height="2" fill="#fff" stroke="#0ea8dc" stroke-width="1"/>
<rect x="1058" y="79" width="1" height="73" fill="#404040"/>
<rect x="1056" y="100" width="5" height="38" fill="#404040"/>
<rect x="1066" y="126" width="1" height="81" fill="#404040"/>
<rect x="1064" y="148" width="5" height="6" fill="#404040"/>
<rect x="1074" y="176" width="1" height="54" fill="#0ea8dc"/>
<rect x="1072.5" y="176.5" width="4" height="3" fill="#fff" stroke="#0ea8dc" stroke-width="1"/>
<rect x="1082" y="126" width="1" height="54" fill="#0ea8dc"/>
<rect x="1080.5" y="131.5" width="4" height="35" fill="#fff" stroke="#0ea8dc" stroke-width="1"/>
<rect x="1090" y="120" width="1" height="47" fill="#0ea8dc"/>
<rect x="1088.5" y="125.5" width="4" height="5" fill="#fff" stroke="#0ea8dc" stroke-width="1"/>
<rect x="1098" y="103" width="1" height="55" fill="#404040"/>
<rect x="1096" y="130" width="5" height="24" fill="#404040"/>
<rect x="1106" y="75" width="1" height="69" fill="#0ea8dc"/>
<rect x="1104.5" y="95.5" width="4" height="49" fill="#fff" stroke="#0ea8dc" stroke-width="1"/>
<rect x="1114" y="60" width="1" height="37" fill="#0ea8dc"/>
<rect x="1112.5" y="74.5" width="4" height="15" fill="#fff" stroke="#0ea8dc" stroke-width="1"/>
<rect x="1122" y="32" width="1" height="32" fill="#0ea8dc"/>
<rect x="1120.5" y="39.5" width="4" height="13" fill="#fff" stroke="#0ea8dc" stroke-width="1"/>
<rect x="1130" y="14" width="1" height="39" fill="#404040"/>
<rect x="1128" y="33" width="5" height="15" fill="#404040"/>
<rect x="1138" y="28" width="1" height="58" fill="#404040"/>
<rect x="1136" y="56" width="5" height="22" fill="#404040"/>
<rect x="1146" y="83" width="1" height="80" fill="#404040"/>
<rect x="1144" y="95" width="5" height="56" fill="#404040"/>
<rect x="1154" y="146" width="1" height="61" fill="#404040"/>
<rect x="1152" y="148" width="5" height="26" fill="#404040"/>
<rect x="1162" y="126" width="1" height="26" fill="#0ea8dc"/>
<rect x="1160.5" y="143.5" width="4" height="9" fill="#fff" stroke="#0ea8dc" stroke-width="1"/>
<rect x="1170" y="136" width="1" height="32" fill="#0ea8dc"/>
<rect x="1168.5" y="144.5" width="4" height="3" fill="#fff" stroke="#0ea8dc" stroke-width="1"/>
<rect x="1178" y="168" width="1" height="44" fill="#404040"/>
<rect x="1176" y="168" width="5" height="41" fill="#404040"/>
<rect x="1186" y="194" width="1" height="29" fill="#404040"/>
<rect x="1184" y="206" width="5" height="11" fill="#404040"/>
<rect x="1194" y="204" width="1" height="42" fill="#404040"/>
<rect x="1192" y="221" width="5" height="20" fill="#404040"/>
<rect x="1202" y="201" width="1" height="83" fill="#404040"/>
<rect x="1200" y="227" width="5" height="49" fill="#404040"/>
<rect x="1210" y="275" width="1" height="96" fill="#0ea8dc"/>
<rect x="1208.5" y="284.5" width="4" height="63" fill="#fff" stroke="#0ea8dc" stroke-width="1"/>
<rect x="1218" y="201" width="1" height="69" fill="#0ea8dc"/>
<rect x="1216.5" y="216.5" width="4" height="51" fill="#fff" stroke="#0ea8dc" stroke-width="1"/>
<rect x="1226" y="220" width="1" height="54" fill="#0ea8dc"/>
<rect x="1224.5" y="241.5" width="4" height="22" fill="#fff" stroke="#0ea8dc" stroke-width="1"/>
<rect x="1234" y="272" width="1" height="120" fill="#404040"/>
<rect x="1232" y="273" width="5" height="91" fill="#404040"/>
<rect x="1242" y="276" width="1" height="69" fill="#0ea8dc"/>
<rect x="1240.5" y="292.5" width="4" height="52" fill="#fff" stroke="#0ea8dc" stroke-width="1"/>
<rect x="1250" y="281" width="1" height="44" fill="#404040"/>
<rect x="1248" y="289" width="5" height="25" fill="#404040"/>
<rect x="1258" y="333" width="1" height="38" fill="#0ea8dc"/>
<rect x="1256.5" y="341.5" width="4" height="14" fill="#fff" stroke="#0ea8dc" stroke-width="1"/>
<rect x="1266" y="340" width="1" height="58" fill="#404040"/>
<rect x="1264" y="362" width="5" height="34" fill="#404040"/>
<rect x="1274" y="369" width="1" height="60" fill="#404040"/>
<rect x="1272" y="376" width="5" height="32" fill="#404040"/>
<rect x="1282" y="322" width="1" height="38" fill="#0ea8dc"/>
<rect x="1280.5" y="342.5" width="4" height="6" fill="#fff" stroke="#0ea8dc" stroke-width="1"/>
<rect x="1290" y="328" width="1" height="41" fill="#0ea8dc"/>
<rect x="1288.5" y="330.5" width="4" height="39" fill="#fff" stroke="#0ea8dc" stroke-width="1"/>
<rect x="1298" y="293" width="1" height="28" fill="#404040"/>
<rect x="1296" y="297" width="5" height="24" fill="#404040"/>
<rect x="1306" y="233" width="1" height="56" fill="#0ea8dc"/>
<rect x="1304.5" y="262.5" width="4" height="10" fill="#fff" stroke="#0ea8dc" stroke-width="1"/>
<rect x="1314" y="242" width="1" height="38" fill="#404040"/>
<rect x="1312" y="248" width="5" height="20" fill="#404040"/>
<rect x="1322" y="155" width="1" height="78" fill="#0ea8dc"/>
<rect x="1320.5" y="157.5" width="4" height="73" fill="#fff" stroke="#0ea8dc" stroke-width="1"/>
<rect x="1330" y="138" width="1" height="56" fill="#0ea8dc"/>
<rect x="1328.5" y="143.5" width="4" height="37" fill="#fff" stroke="#0ea8dc" stroke-width="1"/>
<rect x="1338" y="119" width="1" height="26" fill="#0ea8dc"/>
<rect x="1336.5" y="133.5" width="4" height="3" fill="#fff" stroke="#0ea8dc" stroke-width="1"/>
<rect x="1346" y="130" width="1" height="38" fill="#404040"/>
<rect x="1344" y="132" width="5" height="19" fill="#404040"/>
<rect x="1354" y="77" width="1" height="52" fill="#0ea8dc"/>
<rect x="1352.5" y="91.5" width="4" height="35" fill="#fff" stroke="#0ea8dc" stroke-width="1"/>
<rect x="1362" y="95" width="1" height="43" fill="#404040"/>
<rect x="1360" y="108" width="5" height="30" fill="#404040"/>
<rect x="1370" y="105" width="1" height="30" fill="#0ea8dc"/>
<rect x="1368.5" y="118.5" width="4" height="6" fill="#fff" stroke="#0ea8dc" stroke-width="1"/>
<rect x="1378" y="106" width="1" height="41" fill="#0ea8dc"/>
<rect x="1376.5" y="109.5" width="4" height="33" fill="#fff" stroke="#0ea8dc" stroke-width="1"/>
<rect x="1386" y="100" width="1" height="22" fill="#0ea8dc"/>
<rect x="1384.5" y="101.5" width="4" height="16" fill="#fff" stroke="#0ea8dc" stroke-width="1"/>
<rect x="1394" y="73" width="1" height="42" fill="#404040"/>
<rect x="1392" y="77" width="5" height="36" fill="#404040"/>
<rect x="1402" y="104" width="1" height="60" fill="#404040"/>
<rect x="1400" y="109" width="5" height="49" fill="#404040"/>
<rect x="1410" y="156" width="1" height="89" fill="#404040"/>
<rect x="1408" y="170" width="5" height="74" fill="#404040"/>
<rect x="1418" y="218" width="1" height="56" fill="#404040"/>
<rect x="1416" y="231" width="5" height="28" fill="#404040"/>
<rect x="1426" y="248" width="1" height="37" fill="#404040"/>
<rect x="1424" y="273" width="5" height="9" fill="#404040"/>
<rect x="1434" y="241" width="1" height="52" fill="#404040"/>
<rect x="1432" y="287" width="5" height="6" fill="#404040"/>
<rect x="1442" y="278" width="1" height="36" fill="#404040"/>
<rect x="1440" y="288" width="5" height="24" fill="#404040"/>
<rect x="1450" y="313" width="1" height="39" fill="#404040"/>
<rect x="1448" y="317" width="5" height="9" fill="#404040"/>
<rect x="1458" y="282" width="1" height="40" fill="#0ea8dc"/>
<rect x="1456.5" y="293.5" width="4" height="9" fill="#fff" stroke="#0ea8dc" stroke-width="1"/>
<rect x="1466" y="259" width="1" height="43" fill="#404040"/>
<rect x="1464" y="293" width="5" height="4" fill="#404040"/>
<rect x="1474" y="272" width="1" height="61" fill="#404040"/>
<rect x="1472" y="291" width="5" height="34" fill="#404040"/>
<rect x="1482" y="248" width="1" height="82" fill="#0ea8dc"/>
<rect x="1480.5" y="254.5" width="4" height="76" fill="#fff" stroke="#0ea8dc" stroke-width="1"/>
<rect x="1490" y="218" width="1" height="59" fill="#404040"/>
<rect x="1488" y="248" width="5" height="29" fill="#404040"/>
<rect x="1498" y="384" width="1" height="78" fill="#404040"/>
<rect x="1496" y="412" width="5" height="9" fill="#404040"/>
</g>
<rect x="2.5" y="2.5" width="1871" height="659" fill="none" stroke="#404040" stroke-width="1"/>
<rect x="2.5" y="663.5" width="1871" height="125" fill="none" stroke="#404040" stroke-width="1"/>
<rect x="2.5" y="790.5" width="1871" height="117" fill="none" stroke="#404040" stroke-width="1"/>
<rect x="1874" y="17" width="4" height="1" fill="#404040"/>
<text x="1879" y="21" font-size="9.2" fill="#000" textLength="22.1" lengthAdjust="spacingAndGlyphs">96.06</text>
<rect x="1874" y="49" width="4" height="1" fill="#404040"/>
<text x="1879" y="53" font-size="9.2" fill="#000" textLength="22.1" lengthAdjust="spacingAndGlyphs">94.38</text>
<rect x="1874" y="81" width="4" height="1" fill="#404040"/>
<text x="1879" y="85" font-size="9.2" fill="#000" textLength="22.1" lengthAdjust="spacingAndGlyphs">92.70</text>
<rect x="1874" y="113" width="4" height="1" fill="#404040"/>
<text x="1879" y="117" font-size="9.2" fill="#000" textLength="22.1" lengthAdjust="spacingAndGlyphs">91.02</text>
<rect x="1874" y="146" width="4" height="1" fill="#404040"/>
<text x="1879" y="150" font-size="9.2" fill="#000" textLength="22.1" lengthAdjust="spacingAndGlyphs">89.34</text>
<rect x="1874" y="178" width="4" height="1" fill="#404040"/>
<text x="1879" y="182" font-size="9.2" fill="#000" textLength="22.1" lengthAdjust="spacingAndGlyphs">87.66</text>
<rect x="1874" y="210" width="4" height="1" fill="#404040"/>
<text x="1879" y="214" font-size="9.2" fill="#000" textLength="22.1" lengthAdjust="spacingAndGlyphs">85.98</text>
<rect x="1874" y="242" width="4" height="1" fill="#404040"/>
<text x="1879" y="246" font-size="9.2" fill="#000" textLength="22.1" lengthAdjust="spacingAndGlyphs">84.30</text>
<rect x="1874" y="274" width="4" height="1" fill="#404040"/>
<text x="1879" y="278" font-size="9.2" fill="#000" textLength="22.1" lengthAdjust="spacingAndGlyphs">82.62</text>
<rect x="1874" y="307" width="4" height="1" fill="#404040"/>
<text x="1879" y="311" font-size="9.2" fill="#000" textLength="22.1" lengthAdjust="spacingAndGlyphs">80.94</text>
<rect x="1874" y="339" width="4" height="1" fill="#404040"/>
<text x="1879" y="343" font-size="9.2" fill="#000" textLength="22.1" lengthAdjust="spacingAndGlyphs">79.26</text>
<rect x="1874" y="371" width="4" height="1" fill="#404040"/>
<text x="1879" y="375" font-size="9.2" fill="#000" textLength="22.1" lengthAdjust="spacingAndGlyphs">77.58</text>
<rect x="1874" y="403" width="4" height="1" fill="#404040"/>
<text x="1879" y="407" font-size="9.2" fill="#000" textLength="22.1" lengthAdjust="spacingAndGlyphs">75.90</text>
<rect x="1874" y="436" width="4" height="1" fill="#404040"/>
<text x="1879" y="440" font-size="9.2" fill="#000" textLength="22.1" lengthAdjust="spacingAndGlyphs">74.22</text>
<rect x="1874" y="468" width="4" height="1" fill="#404040"/>
<text x="1879" y="472" font-size="9.2" fill="#000" textLength="22.1" lengthAdjust="spacingAndGlyphs">72.54</text>
<rect x="1874" y="500" width="4" height="1" fill="#404040"/>
<text x="1879" y="504" font-size="9.2" fill="#000" textLength="22.1" lengthAdjust="spacingAndGlyphs">70.86</text>
<rect x="1874" y="532" width="4" height="1" fill="#404040"/>
<text x="1879" y="536" font-size="9.2" fill="#000" textLength="22.1" lengthAdjust="spacingAndGlyphs">69.18</text>
<rect x="1874" y="564" width="4" height="1" fill="#404040"/>
<text x="1879" y="568" font-size="9.2" fill="#000" textLength="22.1" lengthAdjust="spacingAndGlyphs">67.50</text>
<rect x="1874" y="597" width="4" height="1" fill="#404040"/>
<text x="1879" y="601" font-size="9.2" fill="#000" textLength="22.1" lengthAdjust="spacingAndGlyphs">65.82</text>
<rect x="1874" y="629" width="4" height="1" fill="#404040"/>
<text x="1879" y="633" font-size="9.2" fill="#000" textLength="22.1" lengthAdjust="spacingAndGlyphs">64.14</text>
<rect x="1876" y="9" width="29" height="11" fill="#000"/>
<text x="1878.7" y="18" font-size="9.2" fill="#fff" textLength="22.4" lengthAdjust="spacingAndGlyphs">96.23</text>
<rect x="1876" y="68" width="29" height="11" fill="#000"/>
<text x="1878.7" y="77" font-size="9.2" fill="#fff" textLength="22.4" lengthAdjust="spacingAndGlyphs">93.15</text>
<rect x="1876" y="142" width="29" height="11" fill="#000"/>
<text x="1878.7" y="151" font-size="9.2" fill="#fff" textLength="22.4" lengthAdjust="spacingAndGlyphs">89.28</text>
<rect x="1876" y="213" width="29" height="11" fill="#000"/>
<text x="1878.7" y="222" font-size="9.2" fill="#fff" textLength="22.4" lengthAdjust="spacingAndGlyphs">85.57</text>
<rect x="1876" y="347" width="29" height="11" fill="#000"/>
<text x="1878.7" y="356" font-size="9.2" fill="#fff" textLength="22.4" lengthAdjust="spacingAndGlyphs">78.60</text>
<rect x="1876" y="423" width="29" height="11" fill="#000"/>
<text x="1878.7" y="432" font-size="9.2" fill="#fff" textLength="22.4" lengthAdjust="spacingAndGlyphs">74.63</text>
<rect x="1876" y="472" width="29" height="11" fill="#000"/>
<text x="1878.7" y="481" font-size="9.2" fill="#fff" textLength="22.4" lengthAdjust="spacingAndGlyphs">72.08</text>
<rect x="1876" y="563" width="29" height="11" fill="#000"/>
<text x="1878.7" y="572" font-size="9.2" fill="#fff" textLength="22.4" lengthAdjust="spacingAndGlyphs">67.32</text>
<rect x="2.5" y="565.5" width="5" height="5" fill="#555" stroke="#000" stroke-width="1"/>
<rect x="1867.5" y="565.5" width="5" height="5" fill="#555" stroke="#000" stroke-width="1"/>
<text x="6.5" y="12.8" font-size="9.6" fill="#000" textLength="353.0" lengthAdjust="spacingAndGlyphs" style="white-space:pre">SCHW., Daily:  The Charles Schwab Corp (Physical Stock)  75.50 76.98 72.90 75.04</text>
<rect x="349" y="36" width="122" height="62" fill="#fff"/>
<g fill="url(#jfd)"><path d="M370.3,44.1H379.1V79.5Q379.1,90.3 368.3,90.3H359.5V81.6H367.3Q370.3,81.6 370.3,78.6Z"/><path d="M386.8,44.1H417.6V52.5H396.2V63H411.3V71.1H396.2V90.3H386.8Z"/><rect x="424.1" y="44.1" width="1.9" height="46.2"/><rect x="421.5" y="59.9" width="7" height="15"/><path d="M429.2,44.1H441C452.5,44.1 458.9,53.5 458.9,67.2C458.9,80.9 452.5,90.3 441,90.3H429.2V81.2H440.2C446.2,81.2 449.5,75.8 449.5,67.2C449.5,58.6 446.2,53.5 440.2,53.5H429.2Z"/></g>
<text x="540" y="372" font-size="14" font-weight="bold" fill="#ffc000">21 EMA</text>
<text x="556.5" y="413" font-size="14" font-weight="bold" fill="#ff0000">50 EMA</text>
<text x="576.5" y="457" font-size="14" font-weight="bold" fill="#00e000">100 EMA</text>
<text x="618.3" y="551" font-size="14" font-weight="bold" fill="#000000">200 EMA</text>
<text transform="translate(1756.8,12.6) scale(0.95,1.5)" font-size="14" font-weight="bold" fill="#485562">~</text>
<text x="1765.0" y="13" font-size="14" font-weight="bold" fill="#485562">96.23</text>
<text transform="translate(1756.8,68.6) scale(0.95,1.5)" font-size="14" font-weight="bold" fill="#485562">~</text>
<text x="1765.0" y="69" font-size="14" font-weight="bold" fill="#485562">93.15</text>
<text transform="translate(1756.8,143.0) scale(0.95,1.5)" font-size="14" font-weight="bold" fill="#485562">~</text>
<text x="1765.0" y="143.4" font-size="14" font-weight="bold" fill="#485562">89.28</text>
<text transform="translate(1756.8,215.4) scale(0.95,1.5)" font-size="14" font-weight="bold" fill="#485562">~</text>
<text x="1765.0" y="215.8" font-size="14" font-weight="bold" fill="#485562">85.57</text>
<text transform="translate(1757.8,349.0) scale(0.95,1.5)" font-size="14" font-weight="bold" fill="#12b2dc">~</text>
<text x="1766.0" y="349.4" font-size="14" font-weight="bold" fill="#12b2dc">78.60</text>
<text transform="translate(1757.8,425.5) scale(0.95,1.5)" font-size="14" font-weight="bold" fill="#12b2dc">~</text>
<text x="1766.0" y="425.9" font-size="14" font-weight="bold" fill="#12b2dc">74.63</text>
<text transform="translate(1757.8,473.20000000000005) scale(0.95,1.5)" font-size="14" font-weight="bold" fill="#12b2dc">~</text>
<text x="1766.0" y="473.6" font-size="14" font-weight="bold" fill="#12b2dc">72.08</text>
<text transform="translate(1757.8,563.4) scale(0.95,1.5)" font-size="14" font-weight="bold" fill="#12b2dc">~</text>
<text x="1766.0" y="563.8" font-size="14" font-weight="bold" fill="#12b2dc">67.32</text>
<line x1="1395" y1="73.4" x2="1674" y2="488" stroke="#0aaee0" stroke-width="2" stroke-linecap="butt"/>
<path d="M1558.6,290 C1573,238 1594.5,150.5 1603.3,151.8 C1614,151.8 1616,215 1624.8,215 C1633,215 1646,168 1662.3,84.5" fill="none" stroke="#4a5866" stroke-width="2.2"/>
<path d="M1664.6,74.2 L1658.2,85 L1667.4,85.5 Z" fill="#4a5866"/>
<path d="M1528.1,432 C1533,452 1537,475.3 1543.7,475.3 C1551,475.3 1554,438.4 1562.5,438.4 C1575,438.4 1590,490 1607.5,557" fill="none" stroke="#10b4dc" stroke-width="2.2"/>
<path d="M1610.2,566.5 L1603.2,558.5 L1613.2,556.2 Z" fill="#10b4dc"/>
<rect x="2" y="908" width="1" height="4" fill="#404040"/>
<text x="2.5" y="920" font-size="10" fill="#000" textLength="45.1" lengthAdjust="spacingAndGlyphs" style="white-space:pre">21 Jul 2021</text>
<rect x="66" y="908" width="1" height="4" fill="#404040"/>
<text x="66.5" y="920" font-size="10" fill="#000" textLength="46.9" lengthAdjust="spacingAndGlyphs" style="white-space:pre">2 Aug 2021</text>
<rect x="130" y="908" width="1" height="4" fill="#404040"/>
<text x="130.5" y="920" font-size="10" fill="#000" textLength="51.9" lengthAdjust="spacingAndGlyphs" style="white-space:pre">12 Aug 2021</text>
<rect x="194" y="908" width="1" height="4" fill="#404040"/>
<text x="194.5" y="920" font-size="10" fill="#000" textLength="52.1" lengthAdjust="spacingAndGlyphs" style="white-space:pre">24 Aug 2021</text>
<rect x="258" y="908" width="1" height="4" fill="#404040"/>
<text x="258.5" y="920" font-size="10" fill="#000" textLength="45.9" lengthAdjust="spacingAndGlyphs" style="white-space:pre">3 Sep 2021</text>
<rect x="322" y="908" width="1" height="4" fill="#404040"/>
<text x="322.5" y="920" font-size="10" fill="#000" textLength="50.9" lengthAdjust="spacingAndGlyphs" style="white-space:pre">16 Sep 2021</text>
<rect x="386" y="908" width="1" height="4" fill="#404040"/>
<text x="386.5" y="920" font-size="10" fill="#000" textLength="50.9" lengthAdjust="spacingAndGlyphs" style="white-space:pre">28 Sep 2021</text>
<rect x="450" y="908" width="1" height="4" fill="#404040"/>
<text x="450.5" y="920" font-size="10" fill="#000" textLength="45.6" lengthAdjust="spacingAndGlyphs" style="white-space:pre">8 Oct 2021</text>
<rect x="514" y="908" width="1" height="4" fill="#404040"/>
<text x="514.5" y="920" font-size="10" fill="#000" textLength="51.0" lengthAdjust="spacingAndGlyphs" style="white-space:pre">20 Oct 2021</text>
<rect x="578" y="908" width="1" height="4" fill="#404040"/>
<text x="578.5" y="920" font-size="10" fill="#000" textLength="48.8" lengthAdjust="spacingAndGlyphs" style="white-space:pre">1 Nov 2021</text>
<rect x="642" y="908" width="1" height="4" fill="#404040"/>
<text x="642.5" y="920" font-size="10" fill="#000" textLength="52.9" lengthAdjust="spacingAndGlyphs" style="white-space:pre">11 Nov 2021</text>
<rect x="706" y="908" width="1" height="4" fill="#404040"/>
<text x="706.5" y="920" font-size="10" fill="#000" textLength="52.9" lengthAdjust="spacingAndGlyphs" style="white-space:pre">23 Nov 2021</text>
<rect x="770" y="908" width="1" height="4" fill="#404040"/>
<text x="770.5" y="920" font-size="10" fill="#000" textLength="46.1" lengthAdjust="spacingAndGlyphs" style="white-space:pre">6 Dec 2021</text>
<rect x="834" y="908" width="1" height="4" fill="#404040"/>
<text x="834.5" y="920" font-size="10" fill="#000" textLength="51.0" lengthAdjust="spacingAndGlyphs" style="white-space:pre">16 Dec 2021</text>
<rect x="898" y="908" width="1" height="4" fill="#404040"/>
<text x="898.5" y="920" font-size="10" fill="#000" textLength="51.0" lengthAdjust="spacingAndGlyphs" style="white-space:pre">29 Dec 2021</text>
<rect x="962" y="908" width="1" height="4" fill="#404040"/>
<text x="962.5" y="920" font-size="10" fill="#000" textLength="49.1" lengthAdjust="spacingAndGlyphs" style="white-space:pre">10 Jan 2022</text>
<rect x="1026" y="908" width="1" height="4" fill="#404040"/>
<text x="1026.5" y="920" font-size="10" fill="#000" textLength="49.4" lengthAdjust="spacingAndGlyphs" style="white-space:pre">21 Jan 2022</text>
<rect x="1090" y="908" width="1" height="4" fill="#404040"/>
<text x="1090.5" y="920" font-size="10" fill="#000" textLength="46.9" lengthAdjust="spacingAndGlyphs" style="white-space:pre">2 Feb 2022</text>
<rect x="1154" y="908" width="1" height="4" fill="#404040"/>
<text x="1154.5" y="920" font-size="10" fill="#000" textLength="51.0" lengthAdjust="spacingAndGlyphs" style="white-space:pre">14 Feb 2022</text>
<rect x="1218" y="908" width="1" height="4" fill="#404040"/>
<text x="1218.5" y="920" font-size="10" fill="#000" textLength="51.0" lengthAdjust="spacingAndGlyphs" style="white-space:pre">25 Feb 2022</text>
<rect x="1282" y="908" width="1" height="4" fill="#404040"/>
<text x="1282.5" y="920" font-size="10" fill="#000" textLength="46.4" lengthAdjust="spacingAndGlyphs" style="white-space:pre">9 Mar 2022</text>
<rect x="1346" y="908" width="1" height="4" fill="#404040"/>
<text x="1346.5" y="920" font-size="10" fill="#000" textLength="51.0" lengthAdjust="spacingAndGlyphs" style="white-space:pre">21 Mar 2022</text>
<rect x="1410" y="908" width="1" height="4" fill="#404040"/>
<text x="1410.5" y="920" font-size="10" fill="#000" textLength="51.6" lengthAdjust="spacingAndGlyphs" style="white-space:pre">31 Mar 2022</text>
<rect x="1474" y="908" width="1" height="4" fill="#404040"/>
<text x="1474.5" y="920" font-size="10" fill="#000" textLength="49.4" lengthAdjust="spacingAndGlyphs" style="white-space:pre">12 Apr 2022</text>
<text x="5.8" y="675.7" font-size="9.2" fill="#000" textLength="57.4" lengthAdjust="spacingAndGlyphs" style="white-space:pre">RSI(14) 33.53</text>
<line x1="3" y1="688.5" x2="1873" y2="688.5" stroke="#c0c0c0" stroke-width="1" stroke-dasharray="3 3"/>
<line x1="3" y1="763.5" x2="1873" y2="763.5" stroke="#c0c0c0" stroke-width="1" stroke-dasharray="3 3"/>
<g clip-path="url(#cr)">
<polyline points="2.5,730.9 10.5,738.6 18.5,735.7 26.5,735.3 34.5,737.4 42.5,734.7 50.5,731.4 58.5,733.8 66.5,734.8 74.5,736.0 82.5,733.9 90.5,725.9 98.5,714.4 106.5,709.8 114.5,706.4 122.5,706.0 130.5,703.6 138.5,712.4 146.5,716.3 154.5,719.8 162.5,722.2 170.5,727.7 178.5,723.0 186.5,721.2 194.5,713.8 202.5,712.2 210.5,717.2 218.5,709.0 226.5,721.0 234.5,723.4 242.5,722.2 250.5,723.8 258.5,727.1 266.5,727.5 274.5,729.8 282.5,725.6 290.5,730.2 298.5,727.7 306.5,737.7 314.5,729.9 322.5,731.5 330.5,732.0 338.5,739.7 346.5,741.2 354.5,730.6 362.5,714.4 370.5,710.4 378.5,706.1 386.5,711.1 394.5,715.2 402.5,725.4 410.5,720.2 418.5,724.1 426.5,716.0 434.5,716.5 442.5,714.9 450.5,711.8 458.5,715.4 466.5,713.4 474.5,717.7 482.5,712.0 490.5,704.3 498.5,706.9 506.5,704.5 514.5,703.9 522.5,702.3 530.5,699.3 538.5,702.7 546.5,702.1 554.5,713.1 562.5,710.9 570.5,710.7 578.5,711.5 586.5,711.2 594.5,705.4 602.5,717.7 610.5,718.7 618.5,716.6 626.5,721.6 634.5,720.2 642.5,718.4 650.5,715.1 658.5,716.5 666.5,716.0 674.5,720.0 682.5,718.4 690.5,728.1 698.5,718.8 706.5,713.8 714.5,712.7 722.5,733.8 730.5,729.2 738.5,738.9 746.5,741.5 754.5,727.1 762.5,731.8 770.5,724.7 778.5,721.8 786.5,721.9 794.5,724.2 802.5,724.0 810.5,729.8 818.5,724.3 826.5,720.6 834.5,712.8 842.5,716.6 850.5,726.3 858.5,718.1 866.5,714.5 874.5,712.1 882.5,710.7 890.5,712.0 898.5,714.6 906.5,716.7 914.5,718.8 922.5,712.7 930.5,701.5 938.5,704.0 946.5,701.1 954.5,698.7 962.5,699.4 970.5,695.0 978.5,693.1 986.5,700.9 994.5,696.5 1002.5,712.0 1010.5,714.4 1018.5,714.4 1026.5,722.0 1034.5,724.6 1042.5,725.1 1050.5,721.0 1058.5,721.3 1066.5,725.0 1074.5,729.6 1082.5,720.4 1090.5,719.3 1098.5,725.7 1106.5,715.2 1114.5,712.1 1122.5,707.4 1130.5,709.6 1138.5,716.2 1146.5,729.4 1154.5,732.9 1162.5,727.5 1170.5,727.7 1178.5,737.3 1186.5,738.3 1194.5,741.4 1202.5,745.6 1210.5,746.6 1218.5,732.8 1226.5,736.2 1234.5,748.9 1242.5,737.5 1250.5,739.6 1258.5,742.1 1266.5,746.8 1274.5,747.8 1282.5,737.4 1290.5,735.7 1298.5,734.3 1306.5,726.1 1314.5,726.8 1322.5,714.2 1330.5,712.8 1338.5,711.8 1346.5,714.7 1354.5,708.7 1362.5,715.9 1370.5,713.8 1378.5,712.9 1386.5,711.9 1394.5,714.1 1402.5,721.6 1410.5,733.0 1418.5,734.7 1426.5,737.3 1434.5,738.5 1442.5,740.7 1450.5,742.2 1458.5,736.2 1466.5,736.7 1474.5,740.2 1482.5,727.7 1490.5,731.0 1498.5,746.1" fill="none" stroke="#16afdc" stroke-width="1" stroke-linejoin="round" shape-rendering="crispEdges" />
</g>
<rect x="1874" y="664" width="4" height="1" fill="#404040"/>
<text x="1879.5" y="671.3" font-size="9.2" fill="#000" textLength="26.6" lengthAdjust="spacingAndGlyphs" style="white-space:pre">100.00</text>
<rect x="1874" y="688" width="4" height="1" fill="#404040"/>
<text x="1879.5" y="692" font-size="9.2" fill="#000" textLength="21.8" lengthAdjust="spacingAndGlyphs" style="white-space:pre">80.00</text>
<rect x="1874" y="763" width="4" height="1" fill="#404040"/>
<text x="1879.5" y="767" font-size="9.2" fill="#000" textLength="21.8" lengthAdjust="spacingAndGlyphs" style="white-space:pre">20.00</text>
<rect x="1874" y="787" width="4" height="1" fill="#404040"/>
<text x="1879.5" y="786" font-size="9.2" fill="#000" textLength="16.9" lengthAdjust="spacingAndGlyphs" style="white-space:pre">0.00</text>
<text x="5.8" y="803" font-size="9.3" fill="#000" textLength="123.1" lengthAdjust="spacingAndGlyphs" style="white-space:pre">MACD(12,26,9) -1.755 -1.085</text>
<g clip-path="url(#cd)">
<rect x="2" y="851.0" width="1" height="16.5" fill="#18b0e0"/>
<rect x="10" y="851.0" width="1" height="18.3" fill="#18b0e0"/>
<rect x="18" y="851.0" width="1" height="18.7" fill="#18b0e0"/>
<rect x="26" y="851.0" width="1" height="18.7" fill="#18b0e0"/>
<rect x="34" y="851.0" width="1" height="19.2" fill="#18b0e0"/>
<rect x="42" y="851.0" width="1" height="18.8" fill="#18b0e0"/>
<rect x="50" y="851.0" width="1" height="17.4" fill="#18b0e0"/>
<rect x="58" y="851.0" width="1" height="16.9" fill="#18b0e0"/>
<rect x="66" y="851.0" width="1" height="16.6" fill="#18b0e0"/>
<rect x="74" y="851.0" width="1" height="16.5" fill="#18b0e0"/>
<rect x="82" y="851.0" width="1" height="15.8" fill="#18b0e0"/>
<rect x="90" y="851.0" width="1" height="13.4" fill="#18b0e0"/>
<rect x="98" y="851.0" width="1" height="8.1" fill="#18b0e0"/>
<rect x="106" y="851.0" width="1" height="2.2" fill="#18b0e0"/>
<rect x="114" y="846.3" width="1" height="3.7" fill="#18b0e0"/>
<rect x="122" y="841.5" width="1" height="8.5" fill="#18b0e0"/>
<rect x="130" y="836.9" width="1" height="13.1" fill="#18b0e0"/>
<rect x="138" y="835.3" width="1" height="14.7" fill="#18b0e0"/>
<rect x="146" y="835.1" width="1" height="14.9" fill="#18b0e0"/>
<rect x="154" y="835.8" width="1" height="14.2" fill="#18b0e0"/>
<rect x="162" y="837.2" width="1" height="12.8" fill="#18b0e0"/>
<rect x="170" y="839.7" width="1" height="10.3" fill="#18b0e0"/>
<rect x="178" y="840.6" width="1" height="9.4" fill="#18b0e0"/>
<rect x="186" y="841.0" width="1" height="9.0" fill="#18b0e0"/>
<rect x="194" y="839.3" width="1" height="10.7" fill="#18b0e0"/>
<rect x="202" y="837.6" width="1" height="12.4" fill="#18b0e0"/>
<rect x="210" y="837.4" width="1" height="12.6" fill="#18b0e0"/>
<rect x="218" y="834.8" width="1" height="15.2" fill="#18b0e0"/>
<rect x="226" y="835.8" width="1" height="14.2" fill="#18b0e0"/>
<rect x="234" y="837.4" width="1" height="12.6" fill="#18b0e0"/>
<rect x="242" y="838.4" width="1" height="11.6" fill="#18b0e0"/>
<rect x="250" y="839.8" width="1" height="10.2" fill="#18b0e0"/>
<rect x="258" y="841.8" width="1" height="8.2" fill="#18b0e0"/>
<rect x="266" y="843.6" width="1" height="6.4" fill="#18b0e0"/>
<rect x="274" y="845.6" width="1" height="4.4" fill="#18b0e0"/>
<rect x="282" y="846.3" width="1" height="3.7" fill="#18b0e0"/>
<rect x="290" y="848.0" width="1" height="2.0" fill="#18b0e0"/>
<rect x="298" y="848.8" width="1" height="1.2" fill="#18b0e0"/>
<rect x="306" y="851.0" width="1" height="2.0" fill="#18b0e0"/>
<rect x="314" y="851.0" width="1" height="2.8" fill="#18b0e0"/>
<rect x="322" y="851.0" width="1" height="3.9" fill="#18b0e0"/>
<rect x="330" y="851.0" width="1" height="4.8" fill="#18b0e0"/>
<rect x="338" y="851.0" width="1" height="7.5" fill="#18b0e0"/>
<rect x="346" y="851.0" width="1" height="10.1" fill="#18b0e0"/>
<rect x="354" y="851.0" width="1" height="9.8" fill="#18b0e0"/>
<rect x="362" y="851.0" width="1" height="4.7" fill="#18b0e0"/>
<rect x="370" y="849.2" width="1" height="0.8" fill="#18b0e0"/>
<rect x="378" y="842.9" width="1" height="7.1" fill="#18b0e0"/>
<rect x="386" y="839.4" width="1" height="10.6" fill="#18b0e0"/>
<rect x="394" y="837.8" width="1" height="12.2" fill="#18b0e0"/>
<rect x="402" y="839.6" width="1" height="10.4" fill="#18b0e0"/>
<rect x="410" y="839.4" width="1" height="10.6" fill="#18b0e0"/>
<rect x="418" y="840.5" width="1" height="9.5" fill="#18b0e0"/>
<rect x="426" y="838.5" width="1" height="11.5" fill="#18b0e0"/>
<rect x="434" y="837.2" width="1" height="12.8" fill="#18b0e0"/>
<rect x="442" y="835.7" width="1" height="14.3" fill="#18b0e0"/>
<rect x="450" y="833.5" width="1" height="16.5" fill="#18b0e0"/>
<rect x="458" y="832.8" width="1" height="17.2" fill="#18b0e0"/>
<rect x="466" y="831.8" width="1" height="18.2" fill="#18b0e0"/>
<rect x="474" y="832.3" width="1" height="17.7" fill="#18b0e0"/>
<rect x="482" y="830.8" width="1" height="19.2" fill="#18b0e0"/>
<rect x="490" y="826.4" width="1" height="23.6" fill="#18b0e0"/>
<rect x="498" y="823.9" width="1" height="26.1" fill="#18b0e0"/>
<rect x="506" y="821.1" width="1" height="28.9" fill="#18b0e0"/>
<rect x="514" y="818.9" width="1" height="31.1" fill="#18b0e0"/>
<rect x="522" y="816.9" width="1" height="33.1" fill="#18b0e0"/>
<rect x="530" y="814.2" width="1" height="35.8" fill="#18b0e0"/>
<rect x="538" y="813.2" width="1" height="36.8" fill="#18b0e0"/>
<rect x="546" y="812.6" width="1" height="37.4" fill="#18b0e0"/>
<rect x="554" y="814.8" width="1" height="35.2" fill="#18b0e0"/>
<rect x="562" y="816.2" width="1" height="33.8" fill="#18b0e0"/>
<rect x="570" y="817.6" width="1" height="32.4" fill="#18b0e0"/>
<rect x="578" y="819.3" width="1" height="30.7" fill="#18b0e0"/>
<rect x="586" y="820.8" width="1" height="29.2" fill="#18b0e0"/>
<rect x="594" y="820.5" width="1" height="29.5" fill="#18b0e0"/>
<rect x="602" y="823.0" width="1" height="27.0" fill="#18b0e0"/>
<rect x="610" y="825.6" width="1" height="24.4" fill="#18b0e0"/>
<rect x="618" y="827.3" width="1" height="22.7" fill="#18b0e0"/>
<rect x="626" y="830.0" width="1" height="20.0" fill="#18b0e0"/>
<rect x="634" y="831.9" width="1" height="18.1" fill="#18b0e0"/>
<rect x="642" y="833.2" width="1" height="16.8" fill="#18b0e0"/>
<rect x="650" y="833.6" width="1" height="16.4" fill="#18b0e0"/>
<rect x="658" y="834.4" width="1" height="15.6" fill="#18b0e0"/>
<rect x="666" y="835.0" width="1" height="15.0" fill="#18b0e0"/>
<rect x="674" y="836.4" width="1" height="13.6" fill="#18b0e0"/>
<rect x="682" y="837.2" width="1" height="12.8" fill="#18b0e0"/>
<rect x="690" y="839.8" width="1" height="10.2" fill="#18b0e0"/>
<rect x="698" y="840.0" width="1" height="10.0" fill="#18b0e0"/>
<rect x="706" y="839.0" width="1" height="11.0" fill="#18b0e0"/>
<rect x="714" y="838.1" width="1" height="11.9" fill="#18b0e0"/>
<rect x="722" y="842.3" width="1" height="7.7" fill="#18b0e0"/>
<rect x="730" y="844.5" width="1" height="5.5" fill="#18b0e0"/>
<rect x="738" y="849.4" width="1" height="0.6" fill="#18b0e0"/>
<rect x="746" y="851.0" width="1" height="4.3" fill="#18b0e0"/>
<rect x="754" y="851.0" width="1" height="4.2" fill="#18b0e0"/>
<rect x="762" y="851.0" width="1" height="5.6" fill="#18b0e0"/>
<rect x="770" y="851.0" width="1" height="4.5" fill="#18b0e0"/>
<rect x="778" y="851.0" width="1" height="2.5" fill="#18b0e0"/>
<rect x="786" y="851.0" width="1" height="1.0" fill="#18b0e0"/>
<rect x="794" y="851.0" width="1" height="0.6" fill="#18b0e0"/>
<rect x="802" y="849.9" width="1" height="0.6" fill="#18b0e0"/>
<rect x="810" y="851.0" width="1" height="1.2" fill="#18b0e0"/>
<rect x="818" y="851.0" width="1" height="0.7" fill="#18b0e0"/>
<rect x="826" y="849.1" width="1" height="0.9" fill="#18b0e0"/>
<rect x="834" y="845.3" width="1" height="4.7" fill="#18b0e0"/>
<rect x="842" y="843.2" width="1" height="6.8" fill="#18b0e0"/>
<rect x="850" y="844.5" width="1" height="5.5" fill="#18b0e0"/>
<rect x="858" y="842.8" width="1" height="7.2" fill="#18b0e0"/>
<rect x="866" y="840.0" width="1" height="10.0" fill="#18b0e0"/>
<rect x="874" y="836.9" width="1" height="13.1" fill="#18b0e0"/>
<rect x="882" y="834.1" width="1" height="15.9" fill="#18b0e0"/>
<rect x="890" y="832.4" width="1" height="17.6" fill="#18b0e0"/>
<rect x="898" y="831.9" width="1" height="18.1" fill="#18b0e0"/>
<rect x="906" y="832.2" width="1" height="17.8" fill="#18b0e0"/>
<rect x="914" y="833.2" width="1" height="16.8" fill="#18b0e0"/>
<rect x="922" y="832.1" width="1" height="17.9" fill="#18b0e0"/>
<rect x="930" y="826.7" width="1" height="23.3" fill="#18b0e0"/>
<rect x="938" y="823.2" width="1" height="26.8" fill="#18b0e0"/>
<rect x="946" y="819.4" width="1" height="30.6" fill="#18b0e0"/>
<rect x="954" y="815.4" width="1" height="34.6" fill="#18b0e0"/>
<rect x="962" y="812.8" width="1" height="37.2" fill="#18b0e0"/>
<rect x="970" y="808.7" width="1" height="41.3" fill="#18b0e0"/>
<rect x="978" y="804.7" width="1" height="45.3" fill="#18b0e0"/>
<rect x="986" y="803.8" width="1" height="46.2" fill="#18b0e0"/>
<rect x="994" y="801.1" width="1" height="48.9" fill="#18b0e0"/>
<rect x="1002" y="803.6" width="1" height="46.4" fill="#18b0e0"/>
<rect x="1010" y="806.7" width="1" height="43.3" fill="#18b0e0"/>
<rect x="1018" y="809.7" width="1" height="40.3" fill="#18b0e0"/>
<rect x="1026" y="814.8" width="1" height="35.2" fill="#18b0e0"/>
<rect x="1034" y="820.1" width="1" height="29.9" fill="#18b0e0"/>
<rect x="1042" y="824.7" width="1" height="25.3" fill="#18b0e0"/>
<rect x="1050" y="827.2" width="1" height="22.8" fill="#18b0e0"/>
<rect x="1058" y="829.6" width="1" height="20.4" fill="#18b0e0"/>
<rect x="1066" y="832.7" width="1" height="17.3" fill="#18b0e0"/>
<rect x="1074" y="836.7" width="1" height="13.3" fill="#18b0e0"/>
<rect x="1082" y="837.2" width="1" height="12.8" fill="#18b0e0"/>
<rect x="1090" y="837.4" width="1" height="12.6" fill="#18b0e0"/>
<rect x="1098" y="839.5" width="1" height="10.5" fill="#18b0e0"/>
<rect x="1106" y="837.6" width="1" height="12.4" fill="#18b0e0"/>
<rect x="1114" y="835.0" width="1" height="15.0" fill="#18b0e0"/>
<rect x="1122" y="831.0" width="1" height="19.0" fill="#18b0e0"/>
<rect x="1130" y="828.6" width="1" height="21.4" fill="#18b0e0"/>
<rect x="1138" y="828.8" width="1" height="21.2" fill="#18b0e0"/>
<rect x="1146" y="833.7" width="1" height="16.3" fill="#18b0e0"/>
<rect x="1154" y="839.1" width="1" height="10.9" fill="#18b0e0"/>
<rect x="1162" y="841.6" width="1" height="8.4" fill="#18b0e0"/>
<rect x="1170" y="843.7" width="1" height="6.3" fill="#18b0e0"/>
<rect x="1178" y="849.4" width="1" height="0.6" fill="#18b0e0"/>
<rect x="1186" y="851.0" width="1" height="4.3" fill="#18b0e0"/>
<rect x="1194" y="851.0" width="1" height="9.6" fill="#18b0e0"/>
<rect x="1202" y="851.0" width="1" height="15.8" fill="#18b0e0"/>
<rect x="1210" y="851.0" width="1" height="21.0" fill="#18b0e0"/>
<rect x="1218" y="851.0" width="1" height="20.7" fill="#18b0e0"/>
<rect x="1226" y="851.0" width="1" height="21.7" fill="#18b0e0"/>
<rect x="1234" y="851.0" width="1" height="29.8" fill="#18b0e0"/>
<rect x="1242" y="851.0" width="1" height="31.4" fill="#18b0e0"/>
<rect x="1250" y="851.0" width="1" height="33.7" fill="#18b0e0"/>
<rect x="1258" y="851.0" width="1" height="36.7" fill="#18b0e0"/>
<rect x="1266" y="851.0" width="1" height="42.0" fill="#18b0e0"/>
<rect x="1274" y="851.0" width="1" height="46.4" fill="#18b0e0"/>
<rect x="1282" y="851.0" width="1" height="45.3" fill="#18b0e0"/>
<rect x="1290" y="851.0" width="1" height="43.2" fill="#18b0e0"/>
<rect x="1298" y="851.0" width="1" height="40.5" fill="#18b0e0"/>
<rect x="1306" y="851.0" width="1" height="34.4" fill="#18b0e0"/>
<rect x="1314" y="851.0" width="1" height="29.5" fill="#18b0e0"/>
<rect x="1322" y="851.0" width="1" height="18.6" fill="#18b0e0"/>
<rect x="1330" y="851.0" width="1" height="8.9" fill="#18b0e0"/>
<rect x="1338" y="851.0" width="1" height="0.7" fill="#18b0e0"/>
<rect x="1346" y="845.3" width="1" height="4.7" fill="#18b0e0"/>
<rect x="1354" y="837.5" width="1" height="12.5" fill="#18b0e0"/>
<rect x="1362" y="834.4" width="1" height="15.6" fill="#18b0e0"/>
<rect x="1370" y="830.9" width="1" height="19.1" fill="#18b0e0"/>
<rect x="1378" y="827.9" width="1" height="22.1" fill="#18b0e0"/>
<rect x="1386" y="825.2" width="1" height="24.8" fill="#18b0e0"/>
<rect x="1394" y="824.2" width="1" height="25.8" fill="#18b0e0"/>
<rect x="1402" y="826.4" width="1" height="23.6" fill="#18b0e0"/>
<rect x="1410" y="833.7" width="1" height="16.3" fill="#18b0e0"/>
<rect x="1418" y="840.5" width="1" height="9.5" fill="#18b0e0"/>
<rect x="1426" y="847.4" width="1" height="2.6" fill="#18b0e0"/>
<rect x="1434" y="851.0" width="1" height="3.5" fill="#18b0e0"/>
<rect x="1442" y="851.0" width="1" height="9.4" fill="#18b0e0"/>
<rect x="1450" y="851.0" width="1" height="14.7" fill="#18b0e0"/>
<rect x="1458" y="851.0" width="1" height="16.8" fill="#18b0e0"/>
<rect x="1466" y="851.0" width="1" height="18.4" fill="#18b0e0"/>
<rect x="1474" y="851.0" width="1" height="21.2" fill="#18b0e0"/>
<rect x="1482" y="851.0" width="1" height="18.7" fill="#18b0e0"/>
<rect x="1490" y="851.0" width="1" height="18.0" fill="#18b0e0"/>
<rect x="1498" y="851.0" width="1" height="26.1" fill="#18b0e0"/>
<polyline points="2.5,859.3 10.5,861.4 18.5,863.2 26.5,864.8 34.5,866.1 42.5,867.1 50.5,867.7 58.5,868.0 66.5,867.9 74.5,867.9 82.5,867.6 90.5,867.0 98.5,865.8 106.5,863.9 114.5,861.4 122.5,858.6 130.5,855.2 138.5,851.8 146.5,848.3 154.5,844.9 162.5,842.0 170.5,840.0 178.5,838.7 186.5,838.1 194.5,837.9 202.5,837.9 210.5,838.2 218.5,838.1 226.5,838.1 234.5,838.2 242.5,838.0 250.5,837.9 258.5,838.0 266.5,838.5 274.5,839.4 282.5,840.4 290.5,841.9 298.5,843.3 306.5,844.9 314.5,846.5 322.5,848.1 330.5,849.5 338.5,851.1 346.5,852.7 354.5,854.2 362.5,854.9 370.5,855.0 378.5,854.0 386.5,852.5 394.5,850.7 402.5,849.0 410.5,847.0 418.5,844.8 426.5,842.4 434.5,840.5 442.5,839.0 450.5,837.9 458.5,837.2 466.5,836.5 474.5,835.7 482.5,834.8 490.5,833.2 498.5,831.6 506.5,829.8 514.5,827.9 522.5,826.1 530.5,824.0 538.5,822.0 546.5,819.8 554.5,818.0 562.5,816.9 570.5,816.2 578.5,816.0 586.5,816.2 594.5,816.6 602.5,817.6 610.5,818.9 618.5,820.6 626.5,822.3 634.5,824.0 642.5,825.7 650.5,827.3 658.5,828.8 666.5,830.4 674.5,831.9 682.5,833.2 690.5,834.6 698.5,835.7 706.5,836.5 714.5,837.1 722.5,838.0 730.5,839.1 738.5,840.8 746.5,842.7 754.5,844.6 762.5,846.4 770.5,848.0 778.5,849.5 786.5,850.9 794.5,851.8 802.5,852.4 810.5,852.6 818.5,852.2 826.5,851.7 834.5,850.5 842.5,849.3 850.5,848.4 858.5,847.5 866.5,846.3 874.5,844.9 882.5,842.9 890.5,840.9 898.5,839.0 906.5,837.5 914.5,836.4 922.5,835.0 930.5,833.3 938.5,831.4 946.5,829.4 954.5,827.4 962.5,825.2 970.5,822.6 978.5,819.6 986.5,816.3 994.5,812.9 1002.5,810.3 1010.5,808.5 1018.5,807.4 1026.5,807.3 1034.5,808.1 1042.5,809.9 1050.5,812.4 1058.5,815.3 1066.5,818.8 1074.5,822.5 1082.5,825.9 1090.5,828.9 1098.5,831.7 1106.5,833.6 1114.5,834.8 1122.5,835.2 1130.5,835.1 1138.5,834.6 1146.5,834.3 1154.5,834.5 1162.5,835.0 1170.5,835.4 1178.5,836.8 1186.5,838.9 1194.5,842.1 1202.5,846.2 1210.5,850.9 1218.5,855.0 1226.5,858.6 1234.5,862.9 1242.5,867.1 1250.5,870.9 1258.5,874.5 1266.5,878.1 1274.5,881.5 1282.5,884.2 1290.5,886.7 1298.5,888.8 1306.5,889.3 1314.5,889.1 1322.5,887.4 1330.5,884.3 1338.5,879.7 1346.5,874.0 1354.5,867.6 1362.5,861.1 1370.5,854.5 1378.5,848.2 1386.5,842.2 1394.5,837.2 1402.5,833.6 1410.5,831.7 1418.5,831.2 1426.5,832.3 1434.5,834.4 1442.5,837.6 1450.5,841.7 1458.5,846.3 1466.5,851.2 1474.5,856.2 1482.5,860.1 1490.5,863.1 1498.5,866.3" fill="none" stroke="#000" stroke-width="1" stroke-linejoin="round" shape-rendering="crispEdges" />
</g>
<rect x="1874" y="791" width="4" height="1" fill="#404040"/>
<text x="1879.3" y="799" font-size="9.2" fill="#000" textLength="22.3" lengthAdjust="spacingAndGlyphs" style="white-space:pre">4.033</text>
<rect x="1874" y="906" width="4" height="1" fill="#404040"/>
<text x="1879.3" y="905" font-size="9.2" fill="#000" textLength="25.2" lengthAdjust="spacingAndGlyphs" style="white-space:pre">-3.818</text>
</svg>
</body></html>
